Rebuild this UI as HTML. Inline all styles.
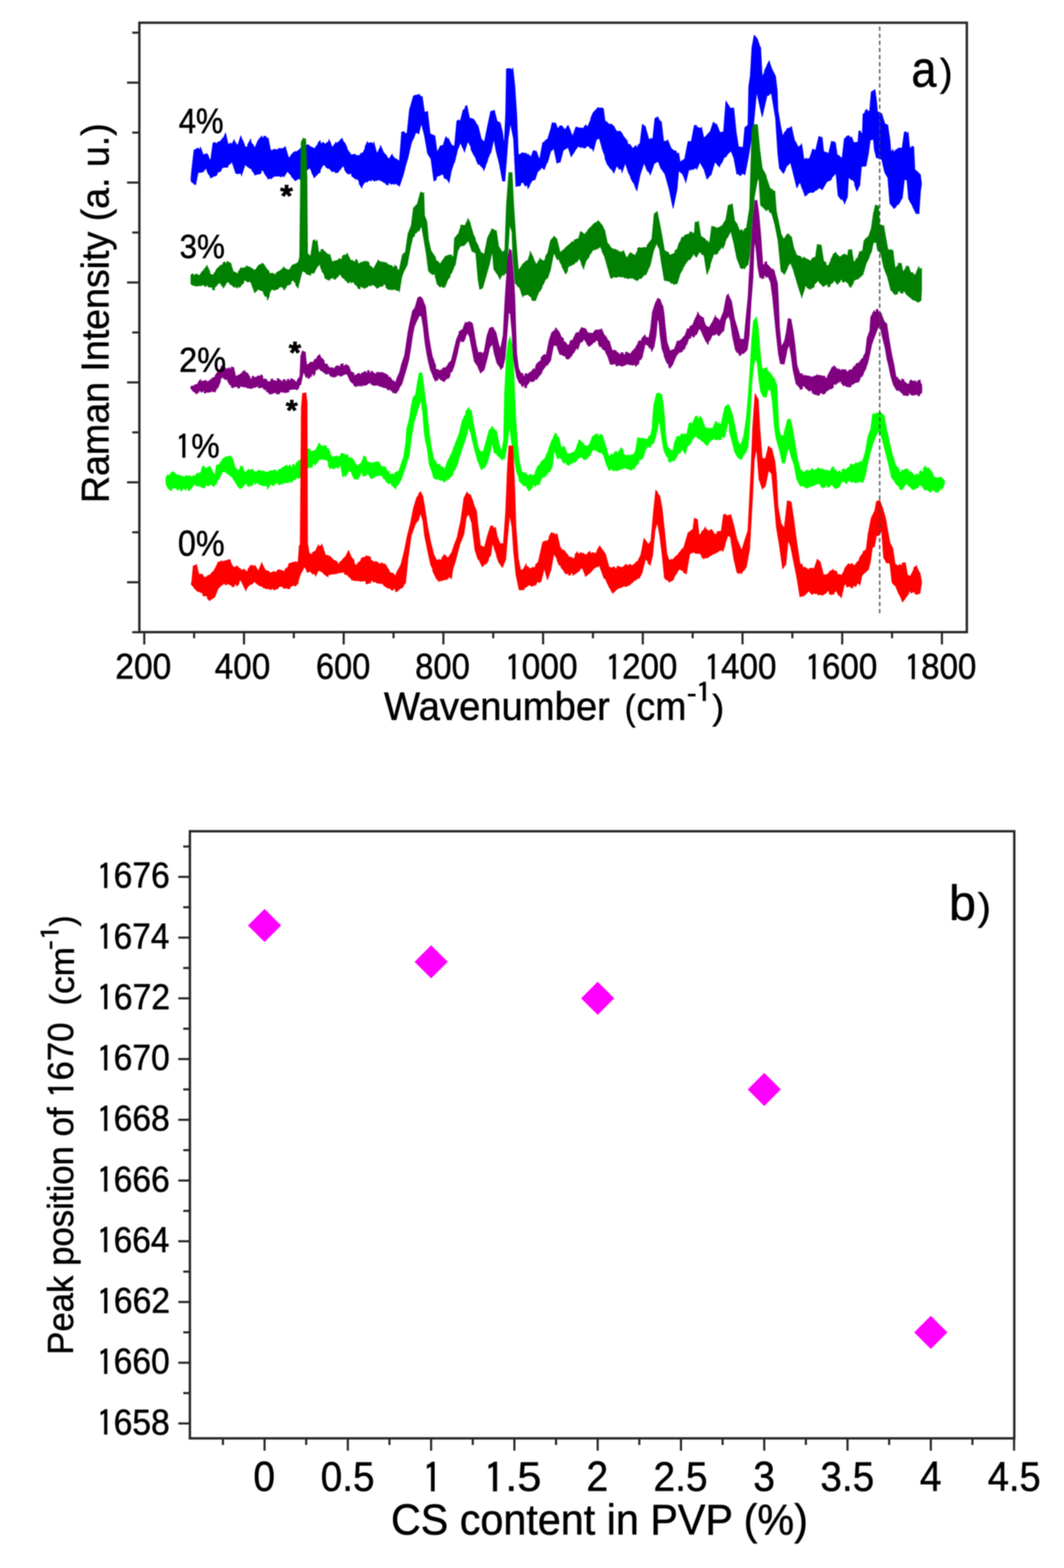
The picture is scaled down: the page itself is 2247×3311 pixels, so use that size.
<!DOCTYPE html>
<html><head><meta charset="utf-8"><title>Raman spectra figure</title>
<style>html,body{margin:0;padding:0;background:#fff;}svg{display:block;filter:blur(0.8px);}
text{font-family:"Liberation Sans",sans-serif;fill:#000;}</style></head>
<body><svg width="2247" height="3311" viewBox="0 0 2247 3311">
<rect width="2247" height="3311" fill="#fff"/>
<polygon points="403.2,379.6 404.9,359.6 409.8,316.9 414.3,315.3 414.3,314.2 418.7,312.6 418.7,315.6 423.2,313.9 423.2,310.4 428.1,323.8 428.2,326.5 432.3,326.5 432.3,325.5 436.5,325.5 436.5,323.7 440.6,330.3 440.6,333.0 444.8,339.7 444.8,339.6 449.8,301.9 454.8,300.8 454.8,303.2 459.8,302.1 459.8,299.9 464.8,298.8 464.8,298.9 471.4,290.6 471.4,292.6 476.4,280.9 476.4,281.4 481.4,303.3 485.6,305.8 485.6,301.6 489.7,304.1 489.7,304.7 494.7,294.7 494.7,297.1 501.4,307.1 501.4,309.0 508.0,289.1 508.1,286.8 512.2,296.8 512.2,295.7 516.4,305.7 516.4,309.2 523.0,310.9 523.0,305.3 529.7,293.6 529.7,298.5 533.8,307.7 533.9,304.3 538.0,313.4 538.0,312.5 544.7,297.6 544.7,297.4 548.8,291.6 548.8,292.7 553.0,286.9 553.0,289.9 557.4,291.1 557.4,287.2 561.9,288.3 561.9,290.8 566.3,291.9 566.3,291.4 571.3,317.2 577.1,317.2 577.1,315.6 583.0,315.6 583.0,316.6 587.4,316.6 587.4,313.7 591.8,313.7 591.8,313.7 596.3,313.7 596.3,314.6 602.9,309.6 602.9,311.3 609.6,334.1 614.6,329.1 614.6,327.6 619.6,322.6 619.6,321.9 624.0,319.7 624.0,321.3 628.5,319.1 628.5,318.3 632.9,316.1 632.9,315.1 637.9,310.1 637.9,313.1 642.9,308.1 642.9,307.5 647.9,308.4 647.9,305.7 652.9,306.5 652.9,308.5 657.9,311.0 657.9,310.7 662.9,313.2 662.9,315.3 667.3,310.3 667.3,309.4 671.7,304.4 671.7,301.8 676.2,296.8 676.2,300.9 681.2,305.1 681.2,299.9 686.2,304.1 686.2,305.9 690.3,300.9 690.3,302.9 694.5,297.9 694.5,294.3 698.6,302.6 698.6,304.6 702.8,312.9 702.8,310.2 709.5,300.3 709.5,304.0 713.9,300.2 713.9,300.7 718.3,296.8 718.3,295.7 722.8,291.8 722.8,293.6 727.8,304.4 727.8,301.1 732.8,311.9 732.8,314.2 736.9,320.8 736.9,320.2 741.1,326.9 741.1,326.8 746.1,326.8 746.1,326.1 751.1,326.1 751.1,328.4 756.1,328.4 756.1,329.0 761.1,327.3 761.1,324.5 766.1,322.8 766.1,324.0 771.0,313.2 771.1,309.5 776.0,298.7 776.1,302.6 780.5,302.0 780.5,301.7 784.9,301.1 784.9,303.2 789.4,302.7 789.4,299.7 796.0,324.9 803.3,310.0 803.3,306.7 810.0,321.7 810.0,322.3 816.6,329.0 816.6,330.7 823.3,337.3 823.3,333.5 828.3,325.1 828.3,327.8 834.9,336.1 834.9,334.3 839.1,337.7 839.1,337.3 843.3,340.7 843.3,343.0 848.3,278.7 854.1,277.9 854.1,282.2 859.9,281.3 859.9,279.7 864.9,231.4 873.2,202.6 877.7,200.9 877.7,201.6 882.1,200.0 882.1,200.8 886.5,199.2 886.5,202.1 891.5,205.4 891.5,203.2 896.5,237.3 903.2,235.6 903.2,238.1 908.2,282.7 913.2,284.4 913.2,285.0 918.2,286.7 918.2,286.4 923.2,322.0 929.8,308.7 929.8,308.3 936.5,306.6 936.5,304.7 941.5,288.6 946.5,295.2 946.5,291.7 953.1,305.0 953.1,305.8 959.8,309.2 959.8,309.7 964.8,255.6 968.9,253.1 968.9,256.2 973.1,253.7 973.1,251.4 978.1,232.5 982.2,230.0 982.3,225.2 986.4,222.7 986.4,224.8 991.4,249.5 995.6,250.3 995.6,250.6 999.7,251.5 999.7,251.5 1004.7,258.1 1004.7,259.7 1009.7,266.3 1009.7,266.4 1016.4,293.6 1023.0,300.2 1023.0,299.7 1029.7,266.4 1036.4,235.0 1040.5,235.0 1040.5,233.5 1044.7,233.5 1044.7,236.4 1049.7,255.9 1056.3,259.3 1056.3,259.7 1061.3,279.7 1064.7,309.7 1068.0,239.8 1069.6,145.8 1074.1,144.7 1074.1,145.8 1078.5,144.7 1078.5,147.1 1083.0,145.9 1083.0,143.2 1087.0,179.8 1091.3,243.1 1094.6,327.5 1101.3,324.1 1101.3,323.1 1106.3,323.1 1106.3,323.7 1111.2,323.7 1111.3,324.1 1115.4,329.1 1115.4,325.3 1119.6,330.3 1119.6,335.4 1126.2,318.7 1126.2,318.0 1132.9,319.7 1132.9,320.3 1139.5,338.6 1139.6,336.3 1146.2,301.5 1151.2,299.0 1151.2,296.6 1156.2,294.1 1156.2,294.7 1162.9,273.1 1166.2,259.1 1172.8,260.8 1172.8,259.0 1176.2,267.4 1176.2,270.5 1181.2,269.7 1181.2,266.3 1186.2,265.4 1186.2,265.5 1192.8,273.8 1192.8,274.6 1199.5,264.7 1199.5,264.4 1204.5,276.0 1204.5,277.1 1209.5,288.7 1209.5,287.0 1216.1,268.7 1216.1,268.4 1220.6,269.0 1220.6,269.9 1225.0,270.4 1225.0,270.1 1229.4,270.7 1229.4,272.2 1233.9,268.9 1233.9,266.9 1238.3,263.6 1238.3,268.7 1242.7,265.3 1242.8,263.8 1247.7,252.1 1247.8,249.3 1252.7,237.7 1252.7,238.3 1257.7,232.5 1257.7,233.0 1262.7,227.2 1262.7,227.3 1268.6,229.0 1268.6,227.5 1274.4,229.2 1274.4,231.4 1277.7,255.2 1283.5,259.3 1283.5,260.2 1289.4,264.4 1289.4,261.2 1296.0,266.2 1296.0,266.3 1303.3,279.6 1303.3,277.2 1310.0,277.2 1310.0,277.3 1315.0,284.0 1315.0,285.4 1320.0,292.1 1320.0,291.6 1324.9,298.3 1325.0,301.7 1329.9,308.3 1329.9,304.3 1336.6,314.3 1336.6,313.5 1343.3,306.8 1343.3,312.4 1347.4,309.0 1347.4,306.5 1351.6,303.2 1351.6,303.0 1356.6,262.6 1363.2,267.6 1363.2,269.7 1369.9,293.3 1374.1,294.9 1374.1,291.9 1378.2,293.5 1378.2,296.4 1383.2,249.9 1389.9,246.6 1389.9,249.3 1396.5,259.3 1396.5,256.4 1401.5,298.5 1405.7,298.5 1405.7,297.5 1409.8,297.5 1409.8,294.9 1416.5,311.6 1416.5,312.2 1423.2,318.9 1423.2,317.7 1428.1,319.3 1428.2,323.0 1433.1,324.6 1433.2,323.0 1436.5,343.2 1441.5,338.2 1441.5,339.6 1446.5,334.6 1446.5,333.0 1453.1,298.7 1459.8,298.7 1459.8,299.7 1466.4,264.7 1471.4,265.3 1471.4,268.8 1476.4,269.4 1476.4,270.4 1481.4,271.0 1481.4,268.1 1486.4,291.8 1493.1,285.2 1493.1,284.9 1499.7,278.2 1499.7,278.3 1506.4,258.3 1506.4,257.8 1513.0,264.5 1513.1,261.4 1519.7,278.1 1519.7,279.8 1523.9,279.8 1523.9,278.8 1528.0,278.8 1528.0,279.7 1533.0,213.6 1537.2,220.3 1537.2,220.3 1541.3,226.9 1541.3,228.4 1545.5,228.4 1545.5,228.3 1549.7,228.3 1549.7,229.8 1554.7,279.7 1559.7,310.8 1564.6,310.0 1564.7,311.6 1569.6,310.7 1569.6,308.0 1573.0,269.4 1579.6,264.4 1579.6,264.7 1581.3,183.2 1584.6,159.9 1588.0,99.9 1592.9,74.3 1599.6,82.6 1599.6,82.9 1606.3,102.9 1606.3,99.9 1609.6,162.6 1614.6,152.6 1614.6,149.1 1619.6,139.1 1619.6,138.2 1624.6,128.2 1624.6,129.9 1629.6,144.9 1633.7,153.2 1633.7,153.0 1637.9,161.4 1637.9,163.2 1641.2,189.8 1642.9,233.1 1647.9,263.1 1652.9,287.9 1657.9,277.9 1657.9,280.5 1662.9,270.5 1662.9,272.1 1667.0,270.5 1667.0,270.1 1671.2,268.4 1671.2,266.4 1677.8,296.2 1682.0,302.9 1682.0,303.9 1686.2,310.6 1686.2,311.5 1692.8,304.8 1692.8,303.0 1697.8,337.1 1703.6,333.8 1703.6,337.3 1709.5,333.9 1709.5,335.4 1716.1,315.5 1716.1,314.7 1722.8,318.0 1722.8,316.3 1729.4,287.9 1736.1,291.2 1736.1,289.7 1739.4,319.5 1744.4,322.9 1744.4,321.1 1749.4,324.4 1749.4,326.3 1756.1,298.1 1760.3,301.3 1760.3,298.6 1764.5,301.8 1764.5,302.8 1767.8,326.5 1773.3,329.8 1773.3,330.8 1778.7,334.1 1778.8,331.3 1783.1,293.5 1789.7,286.9 1789.7,286.9 1794.1,286.9 1794.1,290.2 1798.4,290.2 1798.4,288.9 1803.9,304.2 1803.9,300.9 1807.7,300.9 1807.7,300.6 1811.6,300.6 1811.6,302.8 1813.8,276.7 1817.6,276.7 1817.6,281.2 1821.4,281.2 1821.4,278.8 1822.5,241.2 1826.9,237.9 1826.9,234.0 1831.3,230.7 1831.3,234.8 1836.7,234.8 1836.7,232.8 1840.0,194.1 1843.8,193.1 1843.8,191.1 1847.7,190.0 1847.7,189.1 1851.0,213.1 1853.1,236.3 1857.5,237.4 1857.5,238.6 1861.9,239.7 1861.9,239.4 1868.5,261.2 1875.0,264.5 1875.0,266.7 1879.4,296.3 1881.6,321.8 1885.9,315.2 1886.0,321.0 1890.9,318.8 1890.9,316.9 1895.8,314.7 1895.8,313.9 1900.7,311.7 1900.7,314.2 1905.6,312.0 1905.6,309.4 1910.0,278.4 1913.8,278.4 1913.8,281.0 1917.7,281.0 1917.7,278.8 1921.0,311.4 1925.3,312.4 1925.3,308.8 1929.7,309.9 1929.7,311.6 1931.9,358.2 1937.4,362.6 1937.4,362.8 1943.9,369.4 1943.9,370.7 1946.1,388.2 1946.1,388.2 1943.9,403.5 1940.6,451.6 1940.6,450.8 1934.1,450.8 1934.1,449.4 1927.5,436.3 1927.5,435.7 1923.1,426.9 1923.1,428.1 1918.8,419.4 1915.5,379.4 1915.5,380.6 1910.0,378.4 1905.6,416.6 1905.6,417.7 1901.3,424.3 1901.3,425.5 1896.9,432.1 1896.9,430.2 1892.5,434.6 1892.5,436.1 1888.1,440.4 1888.1,440.3 1883.8,434.8 1883.8,435.0 1879.4,429.5 1875.0,375.0 1875.0,375.1 1868.5,364.1 1861.9,335.7 1861.9,335.8 1856.4,335.8 1856.4,333.5 1851.0,333.5 1846.6,316.0 1844.4,291.9 1844.4,293.8 1837.8,296.0 1833.5,326.9 1829.1,348.8 1829.1,350.2 1824.2,351.3 1824.1,350.6 1819.2,351.7 1815.9,388.2 1815.9,390.5 1809.4,403.6 1809.4,403.3 1805.0,390.2 1805.0,385.4 1798.4,376.7 1798.4,380.3 1791.9,373.7 1789.7,414.4 1789.7,415.8 1783.1,431.1 1783.1,427.6 1776.6,416.7 1776.6,421.7 1770.0,412.9 1765.6,366.3 1765.6,365.2 1760.9,370.2 1760.8,370.6 1756.1,375.6 1756.1,378.5 1751.1,381.9 1751.1,380.9 1746.1,384.2 1746.1,383.9 1741.1,392.2 1741.1,392.7 1736.1,401.1 1736.1,399.7 1729.4,396.4 1729.4,396.7 1724.4,401.7 1724.4,399.6 1719.5,404.6 1719.4,405.0 1714.5,406.7 1714.5,405.0 1709.5,406.7 1709.5,406.8 1704.5,409.3 1704.5,411.4 1699.5,413.9 1699.5,412.1 1694.5,397.9 1694.5,399.0 1689.5,384.8 1689.5,383.3 1682.8,396.6 1676.2,369.6 1669.5,343.0 1669.5,343.0 1662.9,349.6 1662.9,347.8 1658.7,356.1 1658.7,358.0 1654.5,366.3 1654.5,366.1 1650.4,361.1 1650.4,360.6 1646.2,355.6 1642.9,326.3 1637.9,249.7 1629.6,199.8 1629.6,196.8 1624.6,198.5 1624.6,200.6 1619.6,202.3 1609.6,246.4 1597.9,193.2 1591.3,263.1 1583.0,316.3 1579.6,336.3 1573.0,369.6 1573.0,368.5 1566.3,365.1 1566.3,369.1 1561.3,370.7 1561.3,366.4 1556.3,368.1 1549.7,333.0 1549.7,333.3 1543.0,316.6 1543.0,319.2 1536.4,325.8 1536.3,325.8 1532.2,332.4 1532.2,328.2 1528.0,334.9 1528.0,336.0 1523.9,344.3 1523.9,342.6 1519.7,350.9 1519.7,352.7 1514.7,347.7 1514.7,346.7 1509.7,341.7 1501.4,369.6 1501.4,368.0 1497.2,373.0 1497.2,373.3 1493.1,378.3 1486.4,356.3 1486.4,357.3 1482.3,349.0 1482.2,350.2 1478.1,341.9 1478.1,341.7 1471.4,358.3 1471.4,353.8 1467.3,355.5 1467.3,355.9 1463.1,357.6 1463.1,358.1 1459.0,356.5 1458.9,359.4 1454.8,357.7 1448.1,386.2 1448.1,383.7 1441.5,367.0 1441.5,367.4 1437.3,364.0 1437.3,363.6 1433.2,360.3 1429.8,399.6 1421.5,439.5 1413.2,399.6 1404.9,369.6 1404.8,368.7 1400.7,362.0 1400.7,362.4 1396.5,355.7 1396.5,357.1 1389.9,340.4 1389.9,340.9 1385.7,342.5 1385.7,343.3 1381.6,345.0 1373.2,369.6 1373.2,368.7 1368.2,358.7 1368.2,362.5 1364.1,354.2 1364.1,352.4 1359.9,344.1 1351.6,369.6 1344.9,402.9 1344.9,402.9 1340.8,392.9 1340.8,392.3 1336.6,382.3 1336.6,384.9 1331.6,374.9 1331.6,372.9 1326.6,362.9 1326.6,362.5 1320.0,342.6 1320.0,344.9 1313.3,364.9 1313.3,360.6 1308.3,353.1 1308.3,358.1 1303.3,350.6 1303.3,347.8 1296.0,366.1 1296.0,364.4 1289.4,354.4 1289.4,356.6 1282.7,346.6 1282.7,347.7 1277.7,334.4 1277.7,330.1 1272.7,316.8 1266.1,293.0 1266.1,291.5 1259.4,294.9 1252.7,319.7 1252.7,316.8 1247.8,311.8 1247.7,313.8 1242.8,308.8 1242.7,307.8 1237.8,309.4 1237.8,311.3 1232.8,313.0 1232.8,311.8 1227.8,309.3 1227.8,312.1 1222.8,309.6 1222.8,306.8 1216.1,315.2 1216.1,315.2 1211.1,323.5 1211.1,322.9 1206.1,331.2 1206.1,330.3 1199.5,310.3 1199.5,311.0 1194.5,314.3 1194.5,314.0 1189.5,317.3 1182.8,343.0 1182.8,341.4 1176.2,344.7 1169.5,313.0 1169.5,313.2 1162.9,319.8 1156.2,343.0 1156.2,340.8 1149.5,357.4 1149.5,358.2 1142.9,351.6 1142.9,355.5 1136.2,362.2 1136.2,359.9 1129.6,379.9 1129.6,378.6 1122.9,382.0 1122.9,382.6 1118.8,389.3 1118.7,391.8 1114.6,398.4 1114.6,393.6 1110.4,388.6 1110.4,393.4 1106.3,388.4 1106.3,383.8 1099.6,387.1 1099.6,391.4 1094.6,393.1 1094.6,392.1 1089.6,393.7 1084.6,293.0 1078.0,259.7 1073.0,293.0 1066.3,379.6 1066.3,382.2 1061.3,382.2 1054.7,346.3 1048.0,319.7 1043.0,293.0 1036.4,323.0 1036.3,320.4 1029.7,337.1 1029.7,339.2 1025.5,349.2 1025.5,350.8 1021.4,360.7 1021.4,357.0 1015.5,350.3 1015.5,350.5 1009.7,343.8 1009.7,347.5 1005.6,337.5 1005.6,336.7 1001.4,326.8 1001.4,328.8 994.7,315.5 994.7,310.9 988.1,297.6 988.1,298.2 981.4,318.2 981.4,321.6 977.3,311.6 977.3,312.2 973.1,302.2 973.1,299.2 966.4,315.9 959.8,343.0 959.8,340.8 953.1,360.7 948.1,386.3 948.1,384.9 941.5,374.9 941.5,377.9 937.3,374.6 937.3,370.2 933.2,366.8 933.1,368.2 926.5,371.5 926.5,370.6 921.5,373.9 921.5,379.1 916.5,382.4 909.8,333.0 909.8,334.7 903.2,324.7 896.5,286.4 889.9,259.7 884.9,279.7 884.9,282.6 878.2,279.3 873.2,293.0 873.2,290.4 868.2,303.7 861.6,333.0 856.6,349.6 851.6,369.6 851.6,369.7 847.4,381.3 847.4,382.0 843.3,393.7 843.3,391.9 838.8,390.2 838.8,388.4 834.4,386.7 834.4,389.2 829.9,387.6 829.9,388.2 825.0,389.1 824.9,385.9 820.0,386.7 820.0,390.9 815.0,389.3 815.0,386.8 810.0,385.2 810.0,384.4 804.7,381.1 804.7,382.0 799.4,378.6 799.3,379.7 794.4,381.4 794.4,380.8 789.4,382.5 789.4,380.9 784.4,378.4 784.4,382.4 779.4,379.9 779.4,380.9 774.4,385.0 774.4,382.0 769.4,386.2 769.4,385.6 764.4,394.0 764.4,397.3 758.6,388.1 758.6,383.7 752.7,374.6 752.7,379.1 747.8,375.7 747.7,375.2 742.8,371.9 742.7,367.5 737.8,365.0 737.8,368.1 732.8,365.6 732.8,365.9 727.8,358.4 727.8,355.1 722.8,347.6 722.8,352.0 717.8,358.7 717.8,358.0 712.8,364.7 712.8,364.0 707.8,364.8 707.8,361.2 702.8,362.1 702.8,363.1 697.8,358.9 697.8,357.9 692.8,353.7 692.8,355.9 687.8,352.6 687.8,350.7 682.8,347.4 682.8,347.5 676.2,359.1 676.2,363.3 669.5,368.3 669.5,368.9 662.9,375.6 662.9,373.3 657.9,363.3 657.9,361.5 652.9,351.5 652.9,355.6 647.9,358.9 647.9,358.6 642.9,361.9 642.9,360.8 637.9,369.1 637.9,370.6 632.9,378.9 632.9,376.1 627.9,378.6 627.9,379.0 622.9,381.5 622.9,381.0 618.8,375.1 618.7,376.6 614.6,370.8 614.6,369.7 610.4,365.5 610.4,365.5 606.3,361.3 606.3,362.0 599.6,373.6 599.6,372.6 594.6,370.9 594.6,373.7 589.6,372.1 589.6,371.2 585.2,372.3 585.2,371.1 580.7,372.2 580.7,371.9 576.3,373.0 576.3,374.6 571.3,377.9 571.3,374.9 566.3,378.3 566.3,378.1 561.3,368.9 561.3,370.8 556.3,361.6 556.3,358.9 551.3,361.4 551.3,365.5 546.3,368.0 546.3,366.6 542.2,368.3 542.2,368.1 538.0,369.7 538.0,368.6 533.9,361.1 533.8,362.5 529.7,355.0 529.7,356.0 525.3,354.3 525.2,352.8 520.8,351.1 520.8,349.3 516.4,347.7 516.4,351.4 509.7,371.4 509.7,366.6 503.9,365.8 503.9,366.9 498.1,366.0 489.7,341.3 489.7,341.0 485.6,346.8 485.6,344.2 481.4,350.1 481.4,353.1 476.4,353.1 476.4,353.2 471.4,353.2 471.4,353.0 467.3,357.1 467.3,359.6 463.1,363.8 463.1,360.8 459.0,365.0 458.9,367.9 454.8,372.0 454.8,370.1 449.8,373.4 449.8,372.7 444.8,376.0 444.8,375.4 440.6,365.4 440.6,368.7 436.5,358.8 436.5,354.1 429.8,360.7 429.8,362.5 424.0,364.1 424.0,363.2 418.2,364.8 413.2,389.6 413.2,390.1 409.0,388.4 409.0,386.4 404.9,384.7 403.2,379.6" fill="#0000ff" stroke="#0000ff" stroke-width="1.5" stroke-linejoin="round"/>
<polygon points="403.2,589.6 403.2,580.5 408.2,578.0 408.2,582.4 413.2,579.9 413.2,578.3 417.3,579.9 417.3,580.3 421.5,582.0 421.5,582.0 426.5,573.7 426.5,574.0 431.5,569.0 431.5,567.9 436.5,562.9 436.5,559.9 443.1,573.3 443.1,578.0 449.8,581.4 449.8,581.1 456.4,571.1 456.5,569.6 461.4,564.6 461.4,564.8 466.4,559.8 466.4,560.6 470.9,558.3 470.9,554.8 475.3,552.6 475.3,556.6 479.7,554.4 479.8,551.5 483.9,554.8 483.9,553.7 488.1,557.0 488.1,559.6 493.1,574.8 498.1,574.8 498.1,577.6 503.1,577.6 503.1,574.5 509.7,564.5 509.7,567.7 514.7,565.2 514.7,566.6 519.7,564.1 519.7,561.2 524.7,563.7 524.7,563.1 529.7,565.5 529.7,566.1 533.8,567.8 533.9,569.0 538.0,570.7 538.0,571.2 543.0,565.4 543.0,564.5 548.0,558.6 548.0,558.8 552.2,559.6 552.2,556.2 556.3,557.1 556.3,557.5 563.0,567.5 563.0,568.1 568.0,572.3 568.0,575.2 573.0,579.4 573.0,576.7 578.0,577.6 578.0,579.1 583.0,580.0 583.0,576.6 587.9,573.3 588.0,573.6 592.9,570.3 592.9,571.5 599.6,563.2 599.6,565.6 604.6,568.1 604.6,568.2 609.6,570.7 609.6,570.6 614.6,565.6 614.6,563.3 619.6,558.3 619.6,559.7 624.6,557.2 624.6,556.9 629.6,554.4 629.6,554.6 632.9,542.9 634.9,373.2 636.2,299.7 639.5,294.1 639.6,292.0 645.5,293.6 645.5,295.9 648.2,373.2 649.5,535.3 656.2,542.0 656.2,539.6 661.2,507.9 665.3,506.2 665.4,510.9 669.5,509.2 669.5,506.3 672.8,532.3 677.8,532.3 677.8,526.7 682.8,526.7 682.8,529.4 687.3,531.6 687.3,533.8 691.7,536.0 691.7,536.9 696.1,539.1 696.2,536.3 701.1,552.6 707.0,551.8 707.0,550.7 712.8,549.9 712.8,549.5 717.8,545.4 717.8,549.8 722.8,545.6 722.8,541.2 727.8,537.9 727.8,540.1 732.8,536.8 732.8,534.1 739.4,547.5 739.4,549.8 745.2,549.8 745.3,552.3 751.1,552.3 751.1,547.4 755.2,550.7 755.2,554.9 759.4,558.2 759.4,556.3 764.4,553.0 764.4,555.3 769.4,551.9 769.4,550.8 774.4,554.2 774.4,551.3 779.4,554.7 779.4,558.7 784.4,565.3 784.4,562.8 789.4,569.5 789.4,566.7 794.4,557.6 794.4,557.4 799.3,548.3 799.4,551.2 804.0,552.9 804.0,552.6 808.6,554.3 808.7,553.4 813.3,555.1 813.3,554.1 818.3,556.6 818.3,557.8 823.3,560.3 823.3,560.2 828.3,561.0 828.3,564.1 833.3,565.0 833.3,559.9 838.3,563.3 838.3,567.8 843.3,571.1 843.3,569.6 849.9,538.3 856.6,531.7 856.6,529.6 861.6,494.1 868.2,477.4 868.2,479.7 873.2,439.0 877.4,435.6 877.4,434.4 881.5,431.0 881.6,429.8 888.2,405.5 894.9,408.9 894.9,406.5 896.5,455.1 901.5,468.4 901.5,469.7 904.9,506.3 909.8,528.9 914.8,536.4 914.8,536.5 919.8,544.0 919.8,547.6 924.8,554.3 924.8,551.8 929.8,558.5 929.8,557.1 934.8,549.6 934.8,550.0 939.8,542.5 939.8,541.6 944.8,540.8 944.8,539.4 949.8,538.6 949.8,538.9 953.9,538.1 954.0,542.5 958.1,541.6 958.1,539.6 959.8,503.4 966.4,495.1 966.4,499.0 973.1,479.0 973.1,474.9 977.3,475.7 977.3,475.8 981.4,476.6 981.4,478.1 988.1,463.1 988.1,461.2 993.1,471.2 993.1,473.0 999.7,495.6 1003.9,503.9 1003.9,507.4 1008.0,515.7 1008.1,515.3 1012.2,525.3 1012.2,524.8 1016.4,534.8 1016.4,533.7 1023.0,537.1 1023.0,536.3 1029.7,502.2 1033.8,493.8 1033.9,494.0 1038.0,485.7 1038.0,483.3 1043.0,485.0 1043.0,486.0 1048.0,487.7 1048.0,486.4 1053.0,520.3 1059.6,530.3 1059.7,534.4 1066.3,527.7 1066.3,526.3 1069.6,433.1 1074.6,364.5 1081.3,364.5 1081.3,364.8 1084.6,429.8 1089.6,506.3 1094.6,571.1 1098.8,566.1 1098.8,565.5 1102.9,560.5 1102.9,558.3 1107.9,555.0 1107.9,553.6 1112.9,550.2 1112.9,555.5 1119.6,535.5 1119.6,530.7 1126.2,544.0 1126.2,546.1 1132.9,559.4 1132.9,558.7 1137.1,552.0 1137.1,551.7 1141.2,545.1 1141.2,547.7 1147.9,551.0 1147.9,552.5 1152.0,545.8 1152.0,541.5 1156.2,534.9 1156.2,536.3 1162.9,507.3 1169.5,500.6 1169.5,498.5 1176.2,505.1 1176.2,506.3 1182.8,533.3 1187.8,530.0 1187.8,529.0 1192.8,525.7 1192.8,524.3 1198.6,519.3 1198.6,519.3 1204.5,514.3 1204.5,514.6 1208.6,509.6 1208.6,513.8 1212.8,508.8 1212.8,506.3 1216.9,506.3 1217.0,504.6 1221.1,504.6 1221.1,506.3 1226.1,488.8 1231.1,492.1 1231.1,492.7 1236.1,496.0 1236.1,492.7 1241.1,487.7 1241.1,485.9 1246.1,480.9 1246.1,481.2 1251.1,476.2 1251.1,475.6 1256.1,470.6 1256.1,472.1 1262.7,467.1 1262.7,465.6 1266.9,469.8 1266.9,470.6 1271.0,474.8 1271.1,474.9 1277.7,488.2 1277.7,489.7 1282.7,513.4 1287.7,518.4 1287.7,520.3 1292.7,525.3 1292.7,524.5 1298.4,527.8 1298.5,525.8 1304.2,529.1 1304.2,529.1 1310.0,532.4 1310.0,533.1 1316.6,529.8 1316.6,528.9 1323.3,545.5 1323.3,545.3 1329.9,535.3 1329.9,533.7 1334.9,535.3 1334.9,536.6 1339.9,538.3 1339.9,542.4 1346.6,529.1 1346.6,524.1 1351.6,522.4 1351.6,524.7 1356.6,523.0 1356.6,523.8 1361.6,522.1 1361.6,523.5 1366.6,521.8 1366.6,517.9 1371.6,511.3 1371.6,511.6 1376.5,505.0 1376.6,506.3 1381.6,451.6 1388.2,446.6 1388.2,448.1 1393.2,473.0 1398.2,499.7 1403.2,529.0 1407.6,531.3 1407.6,531.5 1412.1,533.7 1412.1,536.8 1416.5,539.0 1416.5,538.4 1420.9,536.2 1420.9,536.3 1425.4,534.1 1425.4,529.0 1429.8,526.8 1429.8,526.8 1434.8,511.8 1434.8,515.9 1439.8,500.9 1439.8,502.0 1445.3,499.8 1445.4,497.3 1450.9,495.1 1450.9,495.8 1456.4,493.5 1456.5,490.0 1461.4,490.0 1461.4,492.4 1466.4,492.4 1466.4,493.0 1468.1,468.9 1474.8,468.9 1474.8,466.4 1479.8,498.3 1484.7,501.6 1484.8,501.8 1489.7,505.1 1489.7,505.8 1493.9,512.5 1493.9,508.1 1498.1,514.8 1498.1,516.3 1503.1,477.4 1508.0,479.0 1508.1,479.3 1513.0,481.0 1513.1,483.2 1518.0,479.8 1518.0,480.8 1523.0,477.5 1523.0,479.0 1528.0,472.4 1528.0,471.0 1533.0,464.4 1533.0,463.1 1538.0,434.0 1542.2,432.3 1542.2,433.0 1546.3,431.3 1546.3,429.8 1551.3,466.1 1556.3,472.8 1556.3,473.3 1563.0,490.0 1563.0,486.9 1567.4,484.7 1567.4,489.2 1571.9,486.9 1571.9,483.6 1576.3,481.4 1576.3,483.0 1583.0,439.7 1588.0,276.6 1591.3,262.5 1595.4,264.2 1595.4,262.5 1599.6,264.2 1599.6,263.3 1604.6,316.6 1609.6,355.3 1613.7,363.7 1613.8,362.6 1617.9,370.9 1617.9,373.2 1626.2,398.3 1631.2,400.0 1631.2,402.3 1636.2,403.9 1636.2,403.1 1639.6,446.4 1649.5,494.2 1656.2,507.5 1656.2,504.0 1662.9,494.0 1662.9,493.8 1667.0,495.4 1667.0,498.2 1671.2,499.8 1671.2,499.7 1676.2,523.5 1682.8,540.1 1682.8,538.9 1687.3,541.2 1687.3,540.2 1691.7,542.4 1691.7,544.7 1696.1,546.9 1696.2,543.3 1700.6,544.5 1700.6,546.2 1705.0,547.3 1705.0,548.3 1709.5,549.4 1709.5,552.4 1713.9,549.0 1713.9,547.1 1718.3,543.8 1718.3,545.3 1722.8,541.9 1722.8,539.6 1726.1,516.2 1730.3,517.8 1730.3,516.4 1734.4,518.1 1734.4,519.6 1739.4,551.4 1744.4,554.7 1744.4,559.0 1749.4,562.4 1749.4,560.8 1754.4,550.8 1754.4,548.5 1759.4,538.5 1759.4,536.8 1765.6,532.5 1765.6,535.3 1772.2,541.9 1772.2,543.0 1777.7,540.8 1777.7,539.2 1783.1,537.0 1783.1,536.1 1789.7,540.4 1789.7,541.9 1791.9,527.6 1798.4,527.6 1798.4,526.6 1802.8,553.2 1807.2,551.0 1807.2,546.8 1811.6,544.6 1811.6,543.5 1815.9,530.4 1815.9,532.2 1821.4,530.0 1821.4,531.0 1824.7,508.6 1830.2,502.0 1830.2,503.6 1835.6,497.1 1835.6,496.0 1840.0,482.8 1844.4,452.2 1848.8,432.9 1855.3,435.1 1855.3,436.9 1857.5,473.7 1861.9,475.9 1861.9,475.5 1866.3,477.7 1866.3,476.3 1869.5,496.0 1875.0,526.6 1880.5,528.8 1880.5,527.0 1885.9,529.2 1886.0,531.0 1890.3,566.6 1896.9,560.0 1896.9,556.1 1903.4,556.1 1903.5,557.2 1906.7,574.5 1913.3,565.7 1913.3,562.2 1918.8,562.2 1918.8,563.8 1923.1,575.2 1928.6,576.3 1928.6,579.6 1934.1,580.7 1934.1,577.9 1940.6,562.5 1940.6,566.5 1946.1,568.7 1946.1,566.0 1946.1,590.0 1946.1,611.9 1945.0,633.8 1945.0,634.3 1938.5,638.7 1938.4,637.7 1934.1,635.5 1934.1,634.8 1929.7,632.6 1929.7,634.5 1924.2,630.2 1924.2,629.7 1918.8,625.3 1918.8,625.6 1912.2,619.1 1912.2,616.2 1906.7,615.1 1906.7,619.4 1901.3,618.3 1901.3,613.5 1895.8,615.7 1895.8,620.0 1890.3,622.2 1890.3,621.0 1886.0,618.8 1885.9,615.7 1881.6,613.5 1872.8,579.1 1872.8,581.5 1866.3,564.0 1859.7,533.2 1859.7,534.5 1853.1,527.9 1851.0,513.5 1850.9,511.9 1844.4,511.9 1840.0,533.2 1840.0,530.9 1835.6,541.8 1835.6,543.4 1829.1,556.5 1822.5,579.1 1822.5,579.2 1817.0,584.7 1817.0,584.0 1811.6,589.4 1811.6,588.3 1807.2,590.5 1807.2,590.3 1802.8,592.5 1802.8,596.4 1796.3,607.3 1796.2,607.4 1791.9,600.9 1791.9,598.2 1787.5,596.0 1787.5,594.9 1783.1,592.7 1783.1,596.1 1778.8,595.0 1778.7,591.3 1774.4,590.2 1774.4,594.2 1767.8,600.7 1767.8,599.5 1761.3,590.8 1761.2,592.5 1757.0,598.9 1757.0,595.8 1752.7,602.2 1752.7,605.4 1748.3,605.4 1748.3,600.2 1743.9,600.2 1743.9,602.8 1739.4,602.8 1739.4,605.7 1734.4,600.7 1734.4,600.5 1729.4,595.5 1729.4,590.6 1724.4,595.6 1724.4,596.1 1719.5,601.1 1719.4,605.7 1714.5,609.0 1714.5,608.0 1709.5,611.4 1709.5,609.5 1704.5,607.8 1704.5,605.5 1699.5,603.9 1699.5,608.8 1692.8,628.7 1692.8,626.3 1686.2,606.3 1676.2,572.9 1676.2,571.6 1669.5,555.0 1669.5,554.1 1662.9,564.1 1662.9,566.3 1656.2,579.6 1656.2,578.8 1649.5,572.1 1642.9,506.3 1636.2,473.0 1629.6,449.7 1629.6,450.5 1624.6,447.1 1624.6,443.9 1619.6,440.6 1619.6,445.5 1615.1,442.2 1615.1,440.6 1610.7,437.3 1610.7,436.7 1606.3,433.4 1602.9,379.8 1602.9,376.9 1599.6,380.2 1592.9,416.4 1588.0,473.0 1583.0,539.6 1579.6,559.6 1579.6,557.6 1573.0,565.9 1573.0,567.7 1568.0,565.2 1568.0,567.7 1563.0,565.2 1563.0,562.4 1556.3,545.7 1549.7,513.0 1543.0,486.4 1543.0,488.3 1536.4,501.6 1536.3,499.2 1531.4,510.9 1531.4,513.7 1526.4,525.4 1526.4,520.0 1521.4,525.0 1521.4,526.2 1516.4,531.2 1516.4,534.3 1511.4,537.7 1511.4,534.5 1506.4,537.8 1506.4,538.8 1499.7,558.8 1499.7,562.6 1493.1,579.2 1486.4,536.3 1486.4,538.5 1481.4,536.8 1481.4,534.1 1476.4,532.5 1476.4,532.1 1471.4,542.1 1471.4,543.3 1467.3,540.0 1467.3,538.5 1463.1,535.2 1463.1,539.0 1456.5,549.0 1456.4,545.1 1451.5,551.8 1451.5,551.6 1446.5,558.3 1446.5,559.1 1441.5,567.4 1441.5,569.1 1436.5,577.4 1429.8,599.5 1429.8,597.5 1423.2,600.9 1423.2,600.4 1418.2,595.4 1418.2,598.7 1413.2,593.7 1413.2,593.2 1408.2,593.2 1408.2,592.3 1403.2,592.3 1396.5,552.9 1393.2,529.6 1393.2,527.2 1386.5,513.9 1386.5,513.7 1379.9,530.3 1373.2,559.6 1373.2,559.9 1368.2,569.9 1368.2,571.4 1363.2,581.3 1363.2,577.8 1358.2,582.8 1358.2,583.4 1353.3,588.4 1353.2,587.7 1348.3,588.5 1348.2,591.5 1343.3,592.3 1343.3,590.2 1338.3,589.4 1338.3,587.5 1333.3,586.6 1333.3,587.8 1328.3,586.1 1328.3,588.8 1323.3,587.1 1323.3,586.8 1318.3,586.8 1318.3,584.8 1313.3,584.8 1313.3,584.5 1308.3,584.5 1308.3,584.1 1303.3,584.1 1303.3,585.4 1298.7,585.4 1298.7,584.5 1294.0,584.5 1294.0,586.9 1289.4,586.9 1282.7,562.9 1276.1,539.6 1276.0,540.2 1271.1,530.2 1271.0,527.3 1266.1,517.3 1266.1,522.3 1261.1,525.6 1261.1,524.6 1256.1,528.0 1256.1,524.9 1249.4,531.5 1249.4,532.7 1244.4,539.3 1244.4,541.8 1239.4,548.5 1239.4,545.5 1232.8,565.5 1232.8,568.8 1227.8,557.2 1227.8,555.1 1222.8,543.4 1222.8,545.8 1217.8,554.1 1217.8,549.4 1212.8,557.7 1212.8,557.3 1207.8,559.0 1207.8,560.0 1202.8,561.7 1202.8,560.2 1198.6,566.8 1198.6,572.1 1194.5,578.7 1194.5,578.3 1190.3,570.0 1190.3,569.8 1186.2,561.5 1186.2,559.4 1182.0,552.8 1182.0,550.6 1177.8,543.9 1177.8,549.2 1173.7,542.6 1173.7,540.5 1169.5,533.9 1162.9,566.3 1162.9,568.1 1156.2,588.1 1156.2,584.6 1149.5,594.6 1149.5,596.3 1144.6,604.6 1144.5,607.5 1139.6,615.8 1139.5,612.2 1135.4,623.1 1135.4,622.6 1131.2,633.5 1131.2,635.0 1127.1,633.3 1127.1,635.1 1122.9,633.5 1122.9,629.1 1118.8,624.9 1118.7,625.5 1114.6,621.3 1114.6,621.3 1109.6,623.0 1109.6,622.7 1104.6,624.4 1104.6,627.6 1100.4,617.6 1100.4,615.4 1096.3,605.4 1096.3,606.6 1092.1,603.3 1092.1,601.6 1088.0,598.3 1083.0,539.6 1081.3,489.7 1076.3,473.0 1073.0,526.3 1069.6,572.9 1069.6,575.0 1063.0,581.6 1063.0,577.3 1056.3,587.3 1056.3,590.5 1049.7,577.2 1049.7,578.3 1043.0,568.3 1039.7,529.6 1033.0,559.6 1026.4,582.9 1019.7,606.2 1019.7,607.7 1013.1,611.0 1009.7,589.6 1004.7,533.0 1004.7,534.0 1000.6,532.3 1000.6,532.0 996.4,530.4 996.4,529.1 989.7,509.2 989.7,508.1 985.6,511.4 985.6,512.7 981.4,516.0 981.4,517.6 977.3,519.2 977.3,518.0 973.1,519.6 973.1,517.2 966.4,530.5 961.4,559.6 961.4,557.1 954.8,573.7 954.8,574.8 950.6,579.8 950.6,584.2 946.5,589.2 946.5,588.5 939.8,605.2 939.8,605.8 934.8,607.4 934.8,603.5 929.8,605.2 929.8,606.5 923.2,599.9 918.2,579.6 918.2,576.8 913.2,580.1 913.2,580.3 909.0,575.3 909.0,576.4 904.9,571.4 899.9,533.0 896.5,513.0 889.9,474.7 889.9,476.2 884.9,487.9 884.9,484.5 879.9,491.2 879.9,490.5 875.7,493.8 875.7,498.0 871.6,501.4 866.6,523.0 859.9,559.6 859.9,558.8 853.3,572.1 853.2,571.8 848.3,585.1 843.3,616.2 843.3,615.2 838.3,611.8 838.3,613.5 833.3,610.2 833.3,611.2 828.8,611.2 828.8,611.5 824.4,611.5 824.4,611.0 820.0,611.0 820.0,611.3 815.0,606.4 815.0,602.6 810.0,597.6 810.0,602.1 805.3,605.4 805.3,602.8 800.7,606.2 800.7,605.8 796.0,609.1 796.0,608.0 789.4,601.4 789.4,602.2 784.4,600.5 784.4,603.9 779.4,602.3 779.4,602.3 774.4,607.3 774.4,604.4 769.4,609.4 769.4,607.9 765.0,606.8 764.9,605.6 760.5,604.5 760.5,610.0 756.1,608.9 756.1,607.0 751.1,600.3 751.1,602.0 746.1,595.4 746.1,594.4 741.1,597.7 741.1,593.2 736.1,596.6 736.1,598.2 729.4,591.5 729.4,591.8 724.4,585.1 724.4,587.5 719.5,580.9 719.4,578.1 714.5,581.5 714.5,583.6 709.5,586.9 709.5,589.0 705.0,590.1 705.0,586.0 700.6,587.1 700.6,587.5 696.2,588.6 696.1,591.9 691.2,590.3 691.1,589.4 686.2,587.7 686.2,584.8 681.2,571.5 681.2,575.4 676.2,562.1 676.2,557.0 669.5,563.6 669.5,563.5 662.9,576.8 662.9,576.8 656.2,576.8 656.2,581.2 651.2,579.5 651.2,579.8 646.2,578.1 646.2,575.7 639.6,572.4 639.5,570.1 636.2,580.1 629.6,606.2 629.6,608.6 624.6,601.9 624.6,598.7 619.6,592.1 619.6,591.0 614.6,594.4 614.6,598.7 609.6,602.1 609.6,598.8 604.6,605.4 604.6,606.0 599.6,612.7 599.6,610.2 592.9,603.5 592.9,605.8 588.0,607.5 587.9,609.8 583.0,611.5 583.0,611.5 578.0,613.1 578.0,610.3 573.0,612.0 573.0,611.1 568.8,620.3 568.8,624.8 564.7,634.0 564.6,628.9 560.5,621.4 560.5,626.4 556.3,618.9 556.3,615.3 551.3,613.6 551.3,613.2 546.3,611.5 546.3,609.9 542.2,613.2 542.2,614.2 538.0,617.5 538.0,618.5 533.9,606.9 533.8,607.1 529.7,595.5 529.7,595.5 524.7,593.8 524.7,595.5 519.7,593.9 519.7,590.1 514.7,593.4 514.7,597.7 509.7,601.0 509.7,602.2 505.6,607.2 505.6,602.7 501.4,607.6 501.4,608.5 495.6,603.5 495.6,607.1 489.7,602.1 489.7,602.5 484.8,599.2 484.7,597.6 479.8,594.3 479.7,595.2 475.6,601.8 475.6,601.9 471.4,608.6 471.4,605.6 467.3,602.2 467.3,600.2 463.1,596.9 463.1,596.9 458.1,601.8 458.1,602.4 453.1,607.4 453.1,612.4 448.7,611.3 448.7,606.7 444.2,605.6 444.2,606.7 439.8,605.6 439.8,604.1 434.8,600.8 434.8,605.6 429.8,602.2 429.8,600.5 423.2,603.9 423.2,602.4 418.2,604.0 418.2,602.9 413.2,604.5 413.2,604.3 408.2,601.0 408.2,602.8 403.2,599.5 403.2,589.6" fill="#008000" stroke="#008000" stroke-width="1.5" stroke-linejoin="round"/>
<polygon points="402.8,818.9 402.8,816.6 406.6,814.7 406.6,816.1 410.4,814.2 410.4,812.9 414.2,811.9 414.2,811.9 418.0,810.9 418.0,808.4 423.7,800.8 423.7,804.4 427.5,805.4 427.5,804.6 431.3,805.5 431.3,804.0 435.1,803.1 435.1,806.2 438.9,805.3 438.9,805.4 442.7,804.4 442.7,802.5 446.5,801.5 446.5,799.9 450.3,797.0 450.3,798.8 454.1,795.9 454.1,793.7 457.9,788.0 457.9,788.2 461.7,782.4 461.7,784.3 467.4,774.7 467.4,772.7 473.1,772.7 473.2,774.8 477.0,777.7 477.0,778.1 480.8,780.9 480.8,778.1 484.6,776.2 484.6,779.8 488.4,777.9 488.4,774.6 494.1,776.5 494.1,779.0 497.9,795.6 503.6,791.8 503.6,792.0 507.4,791.1 507.4,789.5 511.2,788.5 511.2,785.8 516.9,782.0 516.9,784.7 522.6,788.5 522.6,787.7 528.3,797.3 528.3,800.7 532.1,799.7 532.1,794.9 535.9,793.9 535.9,798.2 539.7,796.3 539.7,797.2 543.5,795.3 543.5,793.7 547.3,793.7 547.3,794.2 551.1,794.2 551.1,790.4 554.9,794.3 555.0,799.0 558.7,802.8 558.8,799.8 563.5,801.7 563.5,804.5 568.3,806.4 568.3,806.2 572.1,805.2 572.1,800.7 575.9,799.8 575.9,803.5 580.6,803.5 580.6,804.4 585.4,804.4 585.4,799.2 589.2,800.1 589.2,801.9 593.0,802.8 593.0,805.2 597.7,805.2 597.8,801.7 602.5,801.7 602.5,806.1 606.3,805.1 606.3,801.4 610.1,800.4 610.1,803.7 613.9,803.7 613.9,799.7 617.7,799.7 617.7,801.8 622.7,803.1 622.7,805.6 627.6,806.9 627.6,802.6 633.3,795.0 633.3,796.7 635.2,751.6 639.0,740.2 639.0,741.6 644.7,743.5 644.7,743.5 647.6,770.9 654.2,767.1 654.2,765.4 658.0,764.5 658.0,765.4 661.8,764.4 661.8,764.3 665.6,757.6 665.7,762.3 669.4,755.6 669.5,754.1 675.2,748.4 675.2,749.7 680.9,761.1 680.9,756.7 684.7,762.4 684.7,766.1 688.5,771.8 688.5,767.8 692.3,770.7 692.3,773.2 696.1,776.0 696.1,776.6 699.9,777.6 699.9,775.9 703.7,776.9 703.7,780.0 707.5,777.1 707.5,775.2 711.3,772.3 711.3,772.5 715.1,772.5 715.1,774.3 718.9,774.3 718.9,769.6 724.6,767.7 724.6,773.1 730.3,771.2 730.3,769.0 734.1,772.8 734.1,771.4 737.9,775.2 737.9,777.6 743.6,789.0 743.6,785.8 747.4,787.7 747.4,792.1 751.2,794.0 751.3,791.5 755.0,790.6 755.1,789.3 758.9,788.3 758.9,790.7 763.6,789.8 763.6,787.8 768.4,786.9 768.4,785.3 772.2,784.3 772.2,787.7 776.0,786.8 776.0,782.6 779.8,782.6 779.8,787.3 783.6,787.3 783.6,783.9 787.4,784.8 787.4,787.1 791.2,788.1 791.2,790.1 795.0,789.2 795.0,786.8 798.8,785.8 798.8,786.3 802.6,788.2 802.6,786.1 806.4,788.0 806.4,786.1 811.2,788.1 811.2,788.2 815.9,790.1 815.9,790.8 819.7,792.7 819.7,795.5 823.5,797.4 823.5,796.3 829.2,803.9 829.2,804.4 833.0,804.4 833.0,806.7 836.8,806.7 836.9,802.1 842.6,788.8 842.6,791.0 848.3,768.5 854.0,751.4 854.0,753.0 857.8,728.3 861.6,701.6 865.4,682.6 871.1,656.9 876.8,649.3 876.8,648.4 882.5,628.4 888.2,626.5 888.2,626.4 893.9,634.0 893.9,636.1 898.7,647.5 898.7,648.4 901.5,675.0 905.3,709.2 909.1,732.1 912.9,752.5 916.7,762.0 916.7,763.6 920.0,771.2 920.0,772.0 920.0,779.9 924.7,779.9 924.8,782.0 929.5,782.0 929.5,782.1 934.3,780.2 934.3,777.9 939.0,776.0 939.0,778.5 942.8,774.7 942.8,773.8 946.6,770.0 946.6,767.9 952.3,762.2 952.3,764.4 958.0,741.6 963.8,717.6 969.4,704.3 969.5,700.1 973.3,698.2 973.3,697.6 977.1,695.7 977.1,695.4 982.8,680.2 982.8,683.4 986.6,680.6 986.6,682.0 990.4,679.1 990.4,678.6 994.2,682.4 994.2,680.1 998.0,683.9 998.0,684.5 1001.8,705.4 1005.6,728.3 1009.4,744.0 1013.2,744.9 1013.2,743.4 1017.0,744.4 1017.0,748.2 1022.7,742.5 1022.7,741.6 1028.4,709.2 1034.1,692.5 1037.9,692.5 1037.9,691.2 1041.7,691.2 1041.7,693.0 1047.4,702.5 1047.4,701.6 1053.2,727.9 1057.0,737.4 1057.0,737.8 1062.7,707.3 1066.5,633.2 1072.2,547.6 1076.0,525.4 1079.8,531.2 1079.8,528.5 1085.5,595.1 1087.4,633.2 1089.3,695.9 1091.2,747.3 1095.0,777.2 1100.7,790.5 1100.7,787.6 1104.5,789.5 1104.5,793.5 1108.3,795.4 1108.3,790.2 1112.1,788.3 1112.1,791.2 1115.9,789.3 1115.9,788.6 1119.7,786.7 1119.7,785.7 1123.5,783.8 1123.5,782.7 1127.3,777.9 1127.3,782.3 1131.1,777.5 1131.1,772.9 1134.9,766.2 1135.0,769.5 1138.7,762.8 1138.8,765.2 1142.6,760.4 1142.6,755.6 1146.4,750.8 1146.4,751.2 1150.2,748.3 1150.2,750.8 1154.0,747.9 1154.0,747.3 1159.7,718.8 1165.4,701.7 1165.4,702.5 1169.2,698.7 1169.2,699.7 1173.0,695.9 1173.0,692.1 1176.8,695.9 1176.8,696.7 1180.6,700.5 1180.6,700.4 1186.3,713.8 1186.3,712.2 1190.1,715.1 1190.1,720.1 1193.9,723.0 1193.9,722.4 1199.6,730.0 1199.6,729.6 1203.4,725.8 1203.4,721.5 1207.2,717.7 1207.2,722.7 1211.0,715.1 1211.0,714.5 1214.8,706.9 1214.8,705.2 1220.0,701.4 1220.0,701.6 1220.0,706.0 1223.8,700.3 1223.8,698.6 1227.6,692.9 1227.6,691.5 1232.4,693.4 1232.4,692.7 1237.1,694.6 1237.1,695.4 1242.8,704.9 1242.8,703.7 1246.6,702.8 1246.6,704.5 1250.4,703.6 1250.4,706.1 1254.2,701.3 1254.2,701.0 1258.0,696.2 1258.0,697.1 1263.7,697.1 1263.8,696.3 1269.4,696.3 1269.5,693.7 1273.3,700.3 1273.3,702.0 1277.1,708.7 1277.1,708.0 1281.8,713.7 1281.8,715.8 1286.6,721.5 1286.6,719.8 1292.3,738.9 1297.0,740.9 1297.0,739.3 1301.8,741.2 1301.8,743.5 1306.5,745.4 1306.6,747.3 1311.3,749.2 1311.3,744.7 1316.1,744.7 1316.1,748.7 1320.8,748.7 1320.8,743.5 1326.5,744.5 1326.5,745.9 1332.2,746.9 1332.2,746.7 1336.0,740.1 1336.0,743.1 1339.8,736.5 1339.8,737.7 1343.6,732.0 1343.6,730.8 1347.4,725.1 1347.4,722.6 1351.2,718.7 1351.3,722.1 1355.0,718.3 1355.1,715.0 1358.9,711.1 1358.9,710.6 1362.7,706.8 1362.7,710.8 1366.5,713.7 1366.5,712.0 1370.3,714.9 1370.3,714.1 1374.1,693.2 1377.9,658.9 1383.6,641.1 1389.3,629.6 1389.3,629.5 1395.0,633.3 1395.0,635.2 1399.8,648.5 1399.8,645.6 1402.6,664.6 1404.5,685.5 1408.3,721.5 1414.0,738.6 1414.0,740.8 1418.8,739.9 1418.8,739.0 1423.5,738.1 1423.5,739.1 1429.2,723.8 1429.2,721.3 1433.0,719.4 1433.0,721.1 1436.8,719.2 1436.9,718.3 1441.6,714.5 1441.6,712.9 1446.4,709.1 1446.4,708.5 1452.1,693.3 1452.1,695.8 1456.8,692.9 1456.8,689.7 1461.6,686.8 1461.6,689.4 1467.3,674.7 1473.0,663.3 1473.0,658.7 1478.7,668.2 1478.7,667.5 1482.5,669.4 1482.5,669.9 1486.3,671.8 1486.3,676.7 1492.0,691.9 1492.0,688.4 1497.7,692.2 1497.7,691.0 1501.5,685.3 1501.5,684.6 1505.3,678.9 1505.3,679.0 1511.0,665.7 1511.0,669.6 1516.7,673.4 1516.7,673.0 1520.0,678.7 1520.0,677.9 1520.0,678.0 1524.1,667.7 1524.1,667.9 1528.3,657.6 1528.3,656.2 1534.5,624.7 1538.6,620.5 1538.6,623.7 1544.8,636.1 1544.8,635.5 1551.0,672.7 1557.2,693.4 1563.4,717.4 1567.5,715.3 1567.5,718.0 1571.6,716.0 1571.7,714.0 1575.8,668.6 1579.9,627.3 1582.0,586.0 1586.1,524.0 1590.2,462.0 1594.4,422.6 1598.5,424.6 1598.5,422.7 1602.6,451.7 1606.8,499.2 1610.9,559.4 1615.0,558.3 1615.0,553.4 1619.2,552.4 1619.2,557.2 1623.3,561.3 1623.3,561.6 1627.4,565.7 1627.4,565.9 1631.6,572.1 1631.6,567.1 1635.7,573.3 1635.7,575.6 1641.9,598.3 1644.0,635.5 1646.0,689.3 1650.2,732.9 1656.4,720.5 1656.4,722.3 1660.5,701.7 1664.6,672.5 1670.8,674.5 1670.8,676.9 1675.0,699.6 1679.1,730.6 1683.2,771.9 1689.4,789.8 1694.6,788.7 1694.6,793.6 1699.7,792.6 1699.8,792.4 1705.9,794.4 1706.0,793.4 1712.1,795.4 1712.1,796.6 1718.3,795.5 1718.3,794.4 1724.5,793.4 1724.5,791.3 1730.7,793.4 1730.7,792.2 1736.9,794.3 1736.9,794.3 1742.1,794.3 1742.1,798.2 1747.3,798.2 1747.3,794.9 1752.4,784.6 1752.4,785.3 1757.6,774.9 1757.6,775.6 1760.9,774.6 1760.9,772.2 1764.7,775.0 1764.7,776.5 1768.5,779.3 1768.5,779.5 1773.3,779.5 1773.3,782.1 1778.0,782.1 1778.0,780.0 1782.8,780.9 1782.8,780.6 1787.5,781.6 1787.6,785.5 1792.3,784.5 1792.3,781.7 1797.1,780.8 1797.1,782.9 1802.8,775.3 1802.8,773.9 1807.5,772.0 1807.5,768.4 1812.3,766.5 1812.3,768.8 1816.1,763.1 1816.1,763.3 1819.9,757.6 1819.9,759.6 1823.7,753.9 1823.7,751.3 1827.5,745.6 1827.5,746.5 1831.3,713.5 1837.0,698.3 1837.0,697.1 1838.9,668.8 1842.7,663.1 1842.7,661.1 1846.5,655.4 1846.5,659.3 1850.3,658.3 1850.3,653.7 1854.1,652.8 1854.1,657.1 1857.9,661.9 1857.9,658.0 1861.7,662.8 1861.7,664.7 1867.4,678.9 1873.1,684.6 1873.2,687.6 1877.0,712.3 1882.7,746.5 1888.4,773.2 1892.2,796.1 1896.0,797.0 1896.0,800.4 1899.8,801.4 1899.8,802.7 1904.5,805.5 1904.5,799.7 1909.3,802.5 1909.3,805.4 1913.1,808.3 1913.1,808.3 1916.9,811.1 1916.9,813.0 1920.7,809.2 1920.7,805.5 1924.5,801.7 1924.5,803.6 1930.2,805.5 1930.2,804.6 1934.0,804.6 1934.0,807.5 1937.8,807.5 1937.8,804.1 1943.5,802.2 1943.5,806.3 1946.4,813.9 1946.4,811.2 1947.0,822.6 1947.0,822.6 1946.4,830.2 1946.4,827.3 1941.6,834.9 1941.6,836.6 1937.8,834.7 1937.8,833.2 1934.0,831.3 1934.0,834.3 1930.2,832.4 1930.2,834.4 1926.4,834.4 1926.4,833.5 1922.6,833.5 1922.6,829.4 1918.8,830.3 1918.8,834.8 1915.0,835.7 1915.0,834.8 1911.2,834.8 1911.2,834.5 1907.4,834.5 1907.4,832.8 1903.6,829.0 1903.6,829.1 1899.8,825.3 1899.8,825.4 1896.0,822.6 1896.0,825.3 1892.2,822.5 1892.2,821.6 1886.5,812.1 1880.8,792.2 1877.0,773.2 1873.2,757.9 1869.4,735.1 1863.6,712.3 1859.8,693.3 1859.8,696.1 1856.0,688.5 1852.2,697.1 1852.2,697.1 1846.5,712.3 1846.5,710.9 1840.8,728.0 1837.0,746.5 1833.2,763.6 1833.2,763.7 1827.5,780.8 1827.5,780.2 1823.7,786.8 1823.7,789.4 1819.9,796.0 1819.9,792.8 1816.1,798.5 1816.1,801.7 1812.3,807.5 1812.3,805.8 1808.5,807.7 1808.5,806.9 1804.7,808.8 1804.7,808.9 1800.9,811.8 1800.9,810.4 1797.1,813.3 1797.1,816.6 1793.3,817.6 1793.3,816.1 1789.5,817.1 1789.4,816.8 1785.7,814.9 1785.6,814.2 1781.8,812.3 1781.8,815.3 1776.1,807.7 1776.1,804.5 1772.3,805.5 1772.3,807.2 1768.5,808.1 1768.5,808.7 1764.2,812.7 1764.2,808.6 1759.9,812.6 1759.9,817.8 1755.5,821.8 1755.5,819.3 1749.3,823.5 1749.3,823.6 1743.1,827.7 1743.1,830.6 1736.9,832.6 1736.9,828.7 1730.7,830.8 1730.7,834.4 1725.6,834.4 1725.6,832.9 1720.4,832.9 1720.4,832.5 1715.2,829.4 1715.2,825.9 1710.1,822.8 1710.1,826.4 1704.9,822.3 1704.9,822.3 1699.8,818.2 1699.7,814.8 1694.6,815.8 1694.6,821.2 1689.4,822.2 1689.4,818.9 1685.3,814.8 1685.3,814.5 1681.2,810.4 1675.0,782.2 1670.8,751.2 1666.7,726.4 1666.7,728.5 1662.6,736.8 1656.4,767.8 1656.4,768.8 1652.2,768.8 1652.2,768.1 1648.1,768.1 1644.0,747.1 1639.8,709.9 1635.7,668.6 1631.6,627.3 1627.4,596.3 1627.4,596.1 1621.2,581.6 1621.2,583.9 1617.1,585.9 1617.1,580.9 1613.0,583.0 1613.0,588.1 1608.8,588.1 1608.8,586.2 1604.7,586.2 1600.6,565.3 1597.5,534.3 1594.4,507.4 1592.3,524.0 1590.2,586.0 1586.1,637.6 1582.0,709.9 1577.9,738.8 1577.8,738.8 1573.7,743.0 1573.7,742.9 1569.6,747.1 1569.6,745.0 1565.5,747.0 1565.4,749.0 1561.3,751.0 1561.3,748.6 1557.2,742.4 1557.2,745.0 1553.1,738.8 1546.9,709.9 1542.7,681.0 1542.7,678.8 1538.6,666.4 1538.6,667.0 1532.4,675.3 1528.3,699.6 1528.3,698.2 1524.1,701.3 1524.1,703.0 1520.0,706.1 1520.0,706.5 1520.0,708.8 1515.5,707.8 1515.5,705.2 1511.0,704.2 1511.0,706.0 1507.2,707.9 1507.2,706.7 1503.4,708.6 1503.4,709.5 1499.6,718.1 1499.6,715.1 1495.8,723.7 1495.8,727.5 1490.1,719.9 1490.1,719.6 1486.3,711.1 1486.3,711.7 1482.5,703.1 1482.5,701.8 1476.8,692.3 1476.8,692.9 1471.1,706.3 1471.1,705.2 1467.3,708.1 1467.3,709.8 1463.5,712.6 1463.5,708.3 1458.7,710.2 1458.7,713.9 1454.0,715.8 1454.0,716.5 1450.2,727.9 1450.2,723.4 1446.4,734.8 1446.4,736.0 1441.6,738.8 1441.6,741.4 1436.9,744.3 1436.8,741.0 1433.0,745.8 1433.0,745.2 1429.2,750.0 1429.2,749.7 1425.4,757.3 1425.4,758.2 1421.6,765.8 1421.6,768.3 1415.9,775.9 1415.9,777.7 1412.1,774.8 1412.1,769.2 1408.3,766.3 1402.6,752.1 1402.6,749.2 1397.9,735.9 1394.1,708.4 1391.2,676.0 1391.2,676.8 1388.3,674.9 1385.5,708.4 1381.7,729.3 1381.7,731.3 1376.0,742.7 1376.0,738.6 1372.2,731.9 1372.2,735.8 1368.4,729.1 1368.4,729.8 1362.7,726.0 1357.0,750.2 1357.0,752.2 1353.2,759.8 1353.1,755.2 1349.4,762.8 1349.3,767.6 1345.5,770.4 1345.5,770.9 1341.7,773.7 1341.7,770.3 1337.0,769.4 1337.0,771.2 1332.2,770.2 1332.2,770.1 1327.5,770.1 1327.5,768.8 1322.7,768.8 1322.7,769.1 1318.0,772.0 1318.0,770.9 1313.2,773.8 1313.2,773.4 1309.4,771.5 1309.4,771.7 1305.6,769.8 1305.6,772.5 1300.8,772.5 1300.8,768.2 1296.1,768.2 1296.1,769.3 1292.3,768.3 1292.3,769.8 1288.5,768.8 1288.5,767.8 1282.8,750.6 1282.8,751.4 1279.0,743.8 1279.0,743.1 1275.2,735.5 1275.2,739.0 1271.4,736.2 1271.4,733.2 1267.6,730.3 1267.5,733.2 1263.8,726.5 1263.7,722.3 1259.9,715.6 1259.9,718.2 1255.2,722.9 1255.2,721.4 1250.4,726.2 1250.4,727.2 1246.6,728.2 1246.6,730.2 1242.8,731.2 1242.8,731.2 1239.0,725.5 1239.0,724.4 1235.2,718.7 1235.2,717.0 1230.5,718.0 1230.5,721.6 1225.7,722.6 1220.0,738.8 1220.0,735.9 1220.0,734.2 1214.8,738.0 1214.8,740.1 1211.0,745.8 1211.0,745.2 1207.2,750.9 1207.2,751.9 1203.4,754.8 1203.4,755.8 1199.6,758.7 1199.6,758.5 1194.9,756.6 1194.9,752.7 1190.1,750.8 1190.1,751.3 1186.3,748.4 1186.3,749.5 1182.5,746.6 1182.5,749.1 1176.8,733.9 1176.8,730.4 1173.0,728.5 1173.0,730.3 1169.2,728.4 1163.5,756.8 1163.5,759.4 1159.7,766.1 1159.7,764.9 1155.9,771.6 1155.9,768.5 1152.1,773.2 1152.1,773.5 1148.3,778.2 1148.3,778.7 1144.5,784.4 1144.5,786.5 1140.7,792.2 1140.6,790.6 1136.9,796.3 1136.8,796.3 1133.0,802.0 1133.0,799.5 1129.2,801.4 1129.2,803.8 1125.4,805.7 1125.4,804.9 1121.6,805.9 1121.6,804.5 1117.8,805.5 1117.8,807.3 1112.1,814.9 1112.1,818.7 1108.3,818.7 1108.3,813.5 1104.5,813.5 1104.5,817.3 1100.7,813.5 1100.7,811.3 1096.9,807.5 1096.9,809.3 1091.2,796.0 1087.4,775.8 1083.6,753.0 1081.7,705.4 1077.9,663.6 1077.9,661.9 1074.1,659.9 1070.3,709.2 1066.5,756.8 1062.7,772.0 1062.7,774.7 1057.0,780.4 1057.0,777.2 1053.2,771.5 1053.1,772.1 1049.4,766.4 1043.6,745.4 1039.8,724.5 1039.8,726.4 1034.1,734.0 1028.4,758.7 1022.7,779.6 1022.7,780.5 1018.9,784.3 1018.9,783.5 1015.1,787.3 1015.1,788.5 1009.4,775.2 1009.4,774.2 1005.6,768.5 1005.6,768.7 1001.8,763.0 996.1,734.0 992.3,715.0 992.3,712.6 986.6,701.1 986.6,703.7 982.8,711.3 982.8,713.8 979.0,721.4 979.0,720.4 975.2,722.3 975.2,718.6 971.4,720.5 965.7,747.3 959.9,770.1 959.9,770.4 954.2,785.6 954.2,782.6 950.4,788.3 950.4,793.9 946.6,799.6 946.6,796.7 942.8,800.5 942.8,799.9 939.0,803.7 939.0,806.0 934.3,804.1 934.3,803.4 929.5,801.5 929.5,798.7 924.8,798.7 924.7,803.1 920.0,803.1 920.0,804.4 920.0,805.4 914.8,795.9 914.8,794.3 909.1,781.0 905.3,766.3 901.5,747.3 897.7,724.5 893.9,690.2 890.1,667.4 890.1,668.1 886.3,666.2 886.3,665.2 880.6,676.6 880.6,676.4 874.9,689.8 871.1,709.2 867.3,735.9 863.5,758.7 859.7,773.9 854.0,792.9 848.3,812.0 848.3,810.5 842.6,820.0 842.6,822.3 836.9,829.9 836.8,830.4 833.0,829.4 833.0,829.8 829.2,828.9 829.2,826.7 825.4,824.8 825.4,822.9 821.6,821.0 821.6,824.1 817.8,822.2 817.8,820.4 814.0,818.5 814.0,819.3 810.2,817.4 810.2,818.5 806.4,816.6 806.4,816.8 802.6,814.9 802.6,816.0 798.8,814.1 798.8,813.2 795.0,813.2 795.0,813.6 791.2,813.6 791.2,814.2 787.4,813.3 787.4,812.3 783.6,811.4 783.6,808.4 779.8,808.4 779.8,809.6 776.0,809.6 776.0,811.6 772.2,813.5 772.2,812.4 768.4,814.3 768.4,813.4 764.6,812.5 764.6,815.4 760.8,814.4 760.8,813.4 757.0,815.3 757.0,813.3 753.2,815.2 753.1,816.4 747.4,814.5 747.4,811.7 743.6,807.0 743.6,808.9 739.8,804.1 739.8,805.2 734.1,791.8 734.1,791.0 728.4,789.1 728.4,790.3 723.7,792.2 723.7,792.8 718.9,794.7 718.9,792.3 715.1,793.3 715.1,791.1 711.3,792.0 711.3,794.2 707.5,796.1 707.5,795.0 703.7,796.9 703.7,796.3 699.9,792.5 699.9,795.7 696.1,791.9 696.1,789.2 692.3,788.3 692.3,789.7 688.5,788.7 688.5,790.5 684.7,786.7 684.7,787.1 680.9,783.3 680.9,784.4 675.2,780.6 675.2,777.0 669.5,780.8 669.4,779.1 665.7,783.9 665.6,789.1 661.8,793.8 661.8,788.7 658.0,790.6 658.0,794.3 654.2,796.2 654.2,797.7 650.4,799.6 650.4,794.9 646.6,796.8 646.6,797.6 640.9,784.3 635.2,812.0 635.2,809.9 631.4,815.6 631.4,817.8 627.6,823.5 627.6,822.3 621.5,821.7 621.5,821.2 617.7,822.2 617.7,821.6 613.9,822.6 613.9,822.5 610.1,823.5 610.1,827.6 606.3,828.6 606.3,827.7 602.5,829.6 602.5,827.2 598.7,829.1 598.7,828.5 594.9,827.5 594.9,827.8 591.1,826.9 591.1,830.7 587.3,832.6 587.3,830.1 583.5,832.0 583.5,830.0 577.8,828.1 577.8,830.8 573.0,830.8 573.0,832.0 568.3,832.0 568.3,830.0 562.6,826.2 562.6,824.5 558.8,819.8 558.7,823.2 555.0,818.5 554.9,818.0 550.2,818.0 550.2,819.1 545.4,819.1 545.4,814.9 541.6,815.9 541.6,816.9 537.8,817.9 537.8,818.0 534.0,818.0 534.0,819.8 530.2,819.8 530.2,820.4 525.5,819.5 525.5,819.5 520.7,818.5 520.7,817.2 516.0,817.2 515.9,816.8 511.2,816.8 511.2,815.4 506.4,815.4 506.4,819.3 501.7,819.3 501.7,816.3 496.9,816.3 496.9,817.0 492.2,817.0 492.2,819.4 488.4,817.5 488.4,813.7 484.6,811.8 484.6,811.4 480.8,804.8 480.8,803.7 477.0,797.0 477.0,802.2 471.3,798.4 471.2,793.6 465.5,801.2 465.5,806.0 459.8,819.4 459.8,816.4 454.1,827.8 454.1,827.8 450.3,826.9 450.3,826.6 446.5,825.7 446.5,827.3 442.7,827.3 442.7,828.2 438.9,828.2 438.9,827.7 435.1,828.7 435.1,829.2 431.3,830.2 431.3,825.9 427.5,825.0 427.5,828.3 423.7,827.3 423.7,824.2 419.9,826.1 419.9,828.4 416.1,830.3 416.1,831.5 412.3,830.6 412.3,827.7 408.5,826.7 408.5,827.1 402.8,819.5 402.8,818.9" fill="#800080" stroke="#800080" stroke-width="1.5" stroke-linejoin="round"/>
<polygon points="350.5,1014.2 350.5,1007.5 355.2,1001.8 355.2,1006.2 360.0,1001.9 360.0,1000.1 364.7,995.8 364.7,996.1 368.5,998.5 368.5,999.2 372.3,1001.6 372.3,1002.4 376.1,1004.3 376.1,1002.5 379.9,1004.4 379.9,1004.4 383.7,1005.3 383.8,1005.4 387.5,1006.4 387.6,1006.8 391.4,1005.8 391.4,1005.2 395.2,1004.3 395.2,1004.8 399.0,1006.7 399.0,1003.9 402.8,1005.8 402.8,1008.5 406.6,1006.6 406.6,1005.3 410.4,1003.4 410.4,1005.3 414.2,1004.3 414.2,1000.4 418.0,999.4 418.0,999.9 423.7,998.0 423.7,999.9 427.5,984.8 431.3,984.3 431.3,988.7 435.1,988.2 435.1,989.1 438.9,988.1 438.9,986.6 442.7,985.6 442.7,983.9 448.4,993.4 448.4,996.1 454.1,1003.7 454.1,1001.8 457.0,982.6 463.6,980.7 463.6,979.3 469.3,971.7 469.4,969.9 473.1,967.1 473.2,967.3 477.0,964.5 477.0,965.2 482.2,964.2 482.2,963.6 487.4,962.7 487.4,963.3 492.2,970.9 492.2,971.4 496.0,985.5 501.7,993.1 501.7,994.9 507.4,989.2 507.4,983.9 513.1,985.8 513.1,988.9 518.8,1000.3 518.8,997.1 522.6,993.3 522.6,993.8 526.4,990.0 526.4,994.1 530.2,993.2 530.2,991.8 534.0,990.8 534.0,992.9 539.7,998.6 539.7,995.8 544.5,995.8 544.5,993.2 549.2,993.2 549.2,995.4 554.0,994.5 554.0,995.7 558.7,994.7 558.8,996.8 563.5,996.8 563.5,997.1 568.3,997.1 568.3,994.0 573.0,994.5 573.0,994.1 577.8,994.6 577.8,992.8 582.5,992.3 582.5,995.5 587.3,995.1 587.3,992.5 592.0,990.6 592.0,990.2 596.8,988.3 596.8,987.5 601.5,984.6 601.6,984.6 606.3,981.7 606.3,985.8 610.1,985.8 610.1,982.4 613.9,982.4 613.9,987.5 617.7,986.5 617.7,981.3 621.5,980.3 621.5,985.0 625.3,982.1 625.3,977.7 629.1,974.8 629.1,974.2 632.9,971.3 632.9,975.5 640.0,961.0 640.0,958.2 643.8,952.5 643.8,955.4 647.6,949.7 647.6,946.4 651.4,948.3 651.4,947.5 655.2,949.4 655.2,953.8 660.0,952.8 660.0,952.5 664.7,951.5 664.7,952.4 668.5,946.6 668.5,945.9 672.3,940.2 672.3,936.3 676.1,937.3 676.1,940.5 679.9,941.5 679.9,942.0 684.7,942.4 684.7,941.0 689.4,941.4 689.5,944.3 693.3,951.4 693.3,947.3 697.1,954.5 697.1,958.7 700.9,964.4 700.9,962.9 704.7,968.6 704.7,964.4 708.5,963.5 708.5,963.5 712.3,962.5 712.3,966.3 716.1,963.5 716.1,964.5 719.9,961.6 719.9,957.2 723.7,957.2 723.7,958.6 727.5,958.6 727.5,961.1 731.3,963.0 731.3,959.6 735.1,961.5 735.1,965.7 740.8,967.6 740.8,965.4 744.6,971.1 744.6,968.5 748.4,974.2 748.4,976.1 754.1,983.7 754.1,984.9 757.9,982.1 757.9,981.2 761.7,978.4 761.7,979.8 767.4,966.5 767.4,963.3 773.1,965.2 773.2,969.1 777.0,978.6 777.0,976.0 780.8,976.0 780.8,977.7 784.6,977.7 784.6,977.6 788.4,977.6 788.4,976.4 792.2,976.4 792.2,976.2 796.0,974.3 796.0,976.7 799.8,974.8 799.8,975.7 805.5,985.2 805.5,984.3 809.3,986.2 809.3,984.9 813.1,986.8 813.1,985.1 818.8,996.5 818.8,995.1 822.6,996.1 822.6,1001.6 826.4,1002.5 826.4,1000.9 830.2,1000.9 830.2,1001.6 834.0,1001.6 834.0,998.7 837.8,995.8 837.8,997.5 841.6,994.6 841.6,996.8 847.3,979.7 847.3,978.8 853.0,963.6 853.0,961.6 856.9,935.0 858.8,906.5 864.5,883.6 868.3,858.9 872.1,840.5 877.8,832.9 877.8,832.3 881.6,807.6 885.4,787.4 891.1,787.4 891.1,788.5 893.9,807.6 896.8,830.4 900.6,858.9 906.3,912.2 910.1,940.7 915.8,968.8 921.5,976.4 921.5,979.2 925.3,982.0 925.3,979.0 929.1,981.8 929.1,983.7 932.9,985.6 932.9,985.1 936.7,987.0 936.7,988.7 940.0,990.6 940.0,988.3 940.0,989.1 945.7,972.0 950.5,965.3 950.5,962.2 955.2,955.5 955.2,953.8 959.0,942.4 959.0,944.0 962.8,932.6 962.8,933.5 966.6,923.0 966.6,924.0 970.4,913.6 970.4,913.0 976.1,888.3 979.9,880.7 979.9,881.1 983.7,873.5 983.8,868.5 990.4,859.9 990.4,864.6 995.2,867.5 995.2,865.5 999.0,890.2 1004.7,918.8 1010.4,947.3 1016.1,954.9 1016.1,955.2 1021.8,951.4 1021.8,949.2 1027.5,928.3 1033.2,907.8 1037.0,904.9 1037.0,903.1 1040.8,900.3 1040.8,903.7 1044.6,907.5 1044.6,907.3 1048.4,911.1 1048.4,909.2 1054.1,938.9 1059.8,954.1 1059.8,953.0 1063.6,928.3 1065.5,833.2 1069.4,757.1 1073.2,721.5 1077.0,712.9 1077.0,710.5 1080.8,726.6 1084.6,776.1 1088.4,871.2 1092.2,928.3 1096.0,970.1 1101.7,995.8 1107.4,999.6 1107.4,998.1 1111.2,999.0 1111.2,1001.8 1115.0,1002.8 1115.0,1004.2 1118.8,1005.2 1118.8,1001.6 1122.6,1002.6 1122.6,1005.9 1126.4,1003.0 1126.4,1004.1 1130.2,1001.2 1130.2,997.1 1135.9,983.7 1135.9,986.0 1139.7,980.3 1139.7,980.7 1143.5,975.0 1143.5,973.7 1147.3,971.8 1147.3,970.3 1151.1,968.4 1151.1,968.6 1154.9,957.2 1155.0,960.2 1158.7,948.8 1158.8,947.3 1164.5,931.9 1168.3,925.3 1168.3,923.3 1172.1,916.6 1172.1,914.4 1175.9,917.2 1175.9,921.5 1179.7,924.4 1179.7,922.6 1185.4,945.1 1189.2,946.1 1189.2,942.8 1193.0,943.8 1193.0,945.9 1196.8,955.4 1196.8,957.3 1200.6,958.2 1200.6,958.2 1204.4,959.1 1204.4,956.9 1208.2,956.0 1208.2,955.7 1212.0,954.8 1212.0,955.4 1217.7,945.9 1217.7,943.5 1223.4,928.3 1223.4,928.3 1229.1,934.0 1229.1,934.0 1232.9,936.8 1232.9,939.9 1236.7,942.8 1236.7,940.8 1240.0,942.7 1240.0,943.5 1240.0,942.8 1245.7,937.1 1245.7,936.2 1251.4,920.9 1251.4,921.6 1255.2,920.7 1255.2,918.5 1259.0,917.5 1259.0,916.9 1262.8,915.9 1262.8,921.7 1266.6,920.7 1266.6,917.0 1272.3,918.9 1272.3,919.6 1278.0,938.2 1281.8,948.7 1281.8,951.8 1285.6,962.3 1285.7,963.2 1289.4,963.2 1289.5,959.4 1293.3,959.4 1293.3,962.1 1299.0,954.5 1299.0,952.9 1302.8,953.9 1302.8,954.9 1306.6,955.9 1306.6,952.9 1312.3,945.3 1312.3,945.4 1316.1,951.1 1316.1,956.8 1319.9,962.5 1319.9,961.8 1324.6,962.7 1324.6,960.4 1329.4,961.4 1329.4,961.9 1333.2,961.9 1333.2,960.0 1337.0,960.0 1337.0,963.2 1342.7,949.8 1342.7,948.2 1346.5,924.9 1350.3,923.9 1350.3,927.1 1354.1,926.1 1354.1,925.0 1359.8,926.0 1359.8,926.3 1365.5,927.2 1365.5,928.1 1369.3,926.2 1369.4,922.0 1373.1,920.1 1373.2,921.5 1377.0,906.3 1378.9,877.8 1380.8,855.0 1386.5,831.3 1392.2,829.4 1392.2,830.3 1397.9,834.1 1397.9,835.9 1400.7,855.0 1403.6,883.5 1405.5,917.7 1409.3,942.4 1415.0,950.0 1415.0,949.5 1420.7,951.4 1420.7,953.9 1424.5,934.1 1430.2,920.7 1430.2,923.8 1434.0,920.9 1434.0,922.8 1437.8,919.9 1437.8,917.5 1441.6,915.6 1441.6,918.5 1445.4,916.6 1445.4,916.4 1451.1,916.4 1451.1,913.9 1455.0,894.2 1458.7,892.3 1458.8,895.5 1462.6,893.6 1462.6,892.4 1468.3,881.0 1468.3,879.3 1473.0,878.4 1473.0,883.4 1477.8,882.4 1477.8,878.2 1483.5,885.8 1483.5,887.7 1489.2,902.9 1489.2,903.4 1493.0,903.4 1493.0,905.2 1496.8,905.2 1496.8,903.5 1500.6,905.4 1500.6,903.8 1504.4,905.7 1504.4,906.0 1510.1,892.7 1510.1,891.0 1513.9,890.0 1513.9,894.8 1517.7,893.9 1517.7,894.0 1523.4,895.9 1523.4,893.0 1527.2,875.9 1531.0,859.0 1536.7,855.2 1536.7,854.1 1540.0,856.0 1540.0,858.8 1540.0,857.3 1543.8,866.8 1543.8,867.4 1547.6,876.9 1547.6,877.8 1553.3,906.3 1559.0,933.5 1564.7,941.1 1564.7,938.6 1570.4,921.5 1576.1,883.5 1579.9,839.7 1583.8,782.7 1587.6,716.1 1591.4,676.7 1597.1,671.0 1597.1,668.5 1600.9,687.6 1604.7,735.1 1608.5,775.2 1614.2,782.8 1614.2,778.0 1619.9,776.1 1619.9,780.6 1623.7,785.3 1623.7,784.9 1627.5,789.6 1627.5,789.3 1631.3,794.0 1631.3,796.0 1635.1,800.8 1635.1,797.9 1640.8,815.0 1642.7,858.8 1644.6,902.5 1648.4,918.9 1654.1,920.8 1654.1,923.4 1657.9,906.3 1663.6,885.2 1669.3,885.2 1669.4,887.3 1673.2,902.5 1678.9,936.7 1684.6,971.0 1690.3,991.5 1694.1,994.4 1694.1,995.5 1697.9,998.4 1697.9,996.8 1701.7,995.8 1701.7,993.6 1705.5,992.6 1705.5,994.4 1709.3,993.4 1709.3,994.4 1713.1,993.5 1713.1,989.5 1716.9,990.5 1716.9,991.8 1720.7,992.8 1720.7,992.4 1725.5,990.5 1725.5,989.7 1730.2,987.8 1730.2,989.9 1735.0,991.8 1735.0,989.9 1739.7,991.8 1739.7,992.2 1744.5,993.2 1744.5,992.6 1749.2,993.6 1749.2,996.8 1755.1,993.0 1755.1,989.0 1760.9,985.2 1760.9,989.4 1764.7,995.1 1764.7,992.0 1768.5,997.7 1768.5,996.7 1773.3,993.9 1773.3,999.2 1778.0,996.4 1778.0,992.1 1782.8,989.3 1782.8,993.6 1787.5,990.7 1787.6,990.3 1791.4,987.5 1791.4,987.6 1795.2,984.7 1795.2,980.2 1799.9,980.2 1799.9,982.1 1804.7,982.1 1804.7,980.0 1808.5,976.2 1808.5,981.2 1812.3,977.4 1812.3,976.8 1817.0,975.9 1817.0,974.6 1821.8,973.7 1821.8,972.9 1827.5,953.9 1833.2,921.2 1838.9,906.0 1838.9,906.3 1842.7,874.9 1846.5,873.0 1846.5,875.9 1850.3,874.0 1850.3,871.9 1854.1,871.9 1854.1,872.8 1857.9,872.8 1857.9,869.9 1862.7,873.7 1862.7,874.2 1867.4,878.0 1867.4,879.7 1873.2,910.1 1878.9,936.7 1884.6,960.7 1888.4,970.2 1888.4,974.2 1892.2,983.7 1892.2,982.7 1896.0,989.4 1896.0,986.9 1899.8,993.6 1899.8,997.9 1903.6,997.0 1903.6,993.4 1907.4,992.4 1907.4,993.3 1911.2,992.3 1911.2,990.8 1915.0,989.8 1915.0,990.5 1918.8,992.4 1918.8,995.9 1922.6,997.8 1922.6,994.7 1926.4,999.5 1926.4,998.5 1930.2,1003.2 1930.2,1005.2 1934.0,1003.3 1934.0,1002.2 1937.8,1000.3 1937.8,1003.8 1941.6,1001.0 1941.6,996.3 1945.4,993.4 1945.4,998.6 1950.2,993.8 1950.2,988.3 1954.9,983.5 1955.0,988.6 1960.6,988.6 1960.7,987.2 1966.4,996.7 1966.4,994.0 1972.1,1005.4 1972.1,1007.0 1975.9,1008.9 1975.9,1007.7 1979.7,1009.7 1979.7,1009.5 1983.5,1008.5 1983.5,1008.2 1987.3,1007.2 1987.3,1008.2 1993.9,1013.9 1993.9,1014.7 1994.9,1018.5 1994.9,1018.5 1994.9,1019.7 1993.9,1021.6 1993.9,1022.8 1989.2,1034.2 1989.2,1029.5 1985.4,1032.4 1985.4,1034.8 1981.6,1037.6 1981.6,1039.5 1977.8,1038.6 1977.8,1039.5 1974.0,1038.5 1974.0,1034.6 1970.2,1035.5 1970.2,1034.6 1966.4,1035.6 1966.4,1039.5 1962.6,1038.5 1962.6,1036.8 1958.8,1035.8 1958.7,1034.7 1955.0,1031.9 1954.9,1035.8 1951.1,1032.9 1951.1,1030.7 1947.3,1027.9 1947.3,1026.7 1943.5,1023.9 1943.5,1024.2 1939.7,1026.1 1939.7,1028.9 1935.9,1030.8 1935.9,1030.3 1932.1,1033.2 1932.1,1031.4 1928.3,1034.2 1928.3,1034.1 1924.5,1031.3 1924.5,1030.3 1920.7,1027.5 1920.7,1027.3 1916.9,1024.4 1916.9,1022.8 1913.1,1019.9 1913.1,1022.5 1909.3,1027.3 1909.3,1028.2 1905.5,1032.9 1905.5,1034.5 1899.8,1032.6 1899.8,1029.1 1895.0,1023.4 1895.0,1024.8 1890.3,1019.1 1890.3,1017.7 1886.5,1012.9 1886.5,1013.1 1882.7,1008.4 1877.0,982.4 1871.3,959.6 1865.5,936.7 1861.7,923.4 1857.9,908.2 1857.9,909.3 1854.1,913.1 1854.1,912.1 1850.3,919.7 1850.3,919.7 1846.5,927.3 1838.9,952.0 1833.2,974.8 1827.5,1003.3 1823.7,1014.7 1823.7,1017.7 1818.9,1018.7 1818.9,1015.9 1814.2,1016.9 1814.2,1018.3 1809.4,1018.3 1809.4,1019.2 1804.7,1019.2 1804.7,1016.6 1800.9,1017.6 1800.9,1018.0 1797.1,1018.9 1797.1,1015.8 1793.3,1015.8 1793.3,1015.6 1789.5,1015.6 1789.4,1021.0 1784.7,1020.1 1784.7,1017.2 1779.9,1016.2 1779.9,1014.9 1774.2,1022.5 1774.2,1027.0 1769.5,1029.9 1769.5,1029.1 1764.7,1032.0 1764.7,1032.0 1758.8,1026.3 1758.7,1023.2 1753.0,1024.1 1753.0,1027.7 1747.3,1028.7 1747.3,1023.7 1742.6,1025.6 1742.6,1028.5 1737.8,1030.4 1737.8,1030.4 1733.1,1026.6 1733.1,1024.0 1728.3,1020.2 1728.3,1021.2 1723.6,1023.1 1723.6,1022.4 1718.8,1024.3 1718.8,1025.8 1713.1,1026.8 1713.1,1027.1 1707.4,1028.1 1707.4,1030.2 1703.6,1030.2 1703.6,1029.8 1699.8,1029.8 1699.8,1027.0 1695.0,1026.0 1695.0,1026.4 1690.3,1025.5 1690.3,1026.5 1686.5,1019.8 1686.5,1018.8 1682.7,1012.2 1677.0,982.4 1677.0,981.2 1671.3,965.9 1665.5,944.4 1665.5,945.7 1661.7,955.2 1657.9,976.7 1657.9,976.4 1652.2,978.3 1646.5,952.0 1638.9,925.3 1635.1,898.7 1631.3,849.2 1627.5,824.5 1627.5,824.2 1621.8,822.3 1618.0,839.7 1618.0,839.0 1612.3,837.1 1612.3,838.5 1606.6,827.1 1602.8,803.6 1599.0,763.6 1599.0,765.9 1595.2,756.4 1591.4,773.2 1587.6,811.2 1583.8,887.3 1579.9,940.6 1579.9,942.3 1574.2,957.5 1574.2,955.3 1570.4,961.0 1570.4,961.9 1566.6,967.6 1566.6,970.0 1562.8,970.0 1562.8,967.2 1559.0,967.2 1559.0,967.7 1555.2,960.1 1555.2,961.2 1551.4,953.6 1545.7,931.0 1540.0,910.1 1540.0,894.9 1540.0,891.9 1536.7,895.7 1531.0,919.6 1531.0,921.9 1527.2,924.7 1527.2,920.2 1523.4,923.1 1523.4,927.8 1518.7,928.8 1518.7,927.5 1513.9,928.5 1513.9,928.9 1510.1,928.0 1510.1,926.1 1506.3,925.2 1506.3,926.9 1502.5,929.7 1502.5,929.6 1498.7,932.5 1498.7,932.5 1493.0,942.0 1493.0,940.7 1489.2,935.9 1489.2,937.7 1485.4,933.0 1485.4,933.1 1480.6,930.3 1480.6,928.9 1475.9,926.0 1475.9,926.4 1472.1,924.5 1472.1,922.5 1468.3,920.6 1468.3,920.6 1464.5,926.3 1464.5,925.2 1460.7,930.9 1460.6,934.4 1455.9,938.2 1455.9,939.5 1451.1,943.3 1447.3,959.6 1447.3,957.9 1441.6,950.3 1441.6,949.6 1437.8,951.5 1437.8,955.3 1434.0,957.2 1434.0,955.4 1428.3,966.8 1428.3,966.5 1422.6,974.1 1422.6,972.2 1418.8,972.2 1418.8,974.4 1415.0,974.4 1415.0,977.0 1411.2,972.3 1411.2,967.4 1407.4,962.7 1407.4,963.2 1401.7,949.9 1397.9,927.2 1395.0,906.3 1392.2,885.4 1388.4,906.3 1384.6,921.5 1384.6,923.2 1378.9,938.4 1378.9,935.5 1375.1,938.4 1375.0,942.5 1371.3,945.4 1371.2,941.2 1367.4,944.0 1367.4,945.3 1363.6,948.1 1357.9,967.2 1357.9,967.5 1352.2,971.3 1352.2,969.4 1348.4,974.2 1348.4,977.9 1344.6,982.7 1344.6,979.6 1338.9,991.0 1338.9,989.0 1335.1,989.0 1335.1,992.4 1331.3,992.4 1331.3,991.2 1327.5,990.3 1327.5,991.0 1323.7,990.1 1323.7,988.3 1319.9,988.3 1319.9,988.5 1316.1,988.5 1316.1,988.9 1312.3,989.8 1312.3,990.8 1308.5,991.7 1308.5,992.6 1304.7,993.5 1304.7,993.2 1300.9,994.1 1300.9,993.6 1297.1,992.6 1297.1,994.1 1293.3,993.2 1293.3,990.1 1289.5,990.1 1289.4,992.8 1285.7,992.8 1285.6,992.3 1279.9,979.0 1274.2,959.6 1274.2,960.2 1268.5,954.5 1268.5,955.9 1263.8,955.0 1263.8,953.2 1259.0,952.2 1259.0,949.5 1255.2,949.5 1255.2,950.4 1251.4,950.4 1251.4,950.7 1245.7,962.1 1245.7,962.8 1240.0,966.6 1240.0,970.1 1240.0,968.9 1232.9,970.8 1232.9,969.8 1227.2,964.1 1227.2,964.1 1221.5,967.9 1221.5,968.0 1217.7,970.9 1217.7,973.2 1213.9,976.0 1213.9,975.6 1210.1,977.5 1210.1,976.3 1206.3,978.2 1206.3,979.7 1202.5,979.7 1202.5,982.4 1198.7,982.4 1198.7,980.2 1194.9,979.2 1194.9,976.4 1191.1,975.4 1191.1,978.6 1187.3,973.9 1187.3,971.8 1183.5,967.0 1183.5,966.9 1179.7,965.0 1179.7,969.0 1175.9,967.1 1175.9,964.0 1170.2,950.7 1166.4,985.3 1166.4,985.5 1160.7,996.9 1160.6,995.3 1156.9,998.1 1156.8,1000.3 1153.0,1003.2 1153.0,1005.0 1149.2,1007.9 1149.2,1005.6 1145.4,1008.4 1145.4,1006.8 1139.7,1020.1 1139.7,1022.5 1135.9,1024.4 1135.9,1022.0 1132.1,1023.9 1132.1,1026.1 1128.3,1027.1 1128.3,1023.4 1124.5,1024.4 1124.5,1029.5 1120.7,1033.3 1120.7,1033.3 1116.9,1037.1 1116.9,1036.6 1111.2,1027.1 1111.2,1026.1 1107.4,1024.2 1107.4,1026.0 1103.6,1024.1 1103.6,1023.1 1099.8,1018.4 1099.8,1019.5 1096.0,1014.8 1096.0,1009.8 1090.3,994.6 1086.5,970.1 1080.8,937.8 1076.0,897.8 1071.3,937.8 1065.5,970.1 1065.5,967.2 1061.7,969.1 1061.7,972.0 1056.0,966.3 1056.0,965.9 1050.3,962.1 1050.3,959.9 1043.7,956.1 1038.9,934.0 1035.1,954.9 1029.4,975.8 1029.4,976.0 1023.7,987.4 1023.7,986.4 1019.9,988.3 1019.9,989.9 1016.1,991.8 1016.1,990.6 1012.3,982.0 1012.3,981.0 1008.5,972.4 1002.8,951.1 997.1,928.3 993.3,909.2 993.3,911.9 989.5,902.3 983.8,924.5 976.1,947.3 968.5,970.1 968.5,972.9 964.7,984.3 964.7,981.6 960.9,993.0 960.9,990.3 957.1,996.0 957.1,1000.7 953.3,1006.4 953.3,1006.2 949.5,1009.1 949.5,1009.7 945.7,1012.5 945.7,1011.9 940.0,1015.7 940.0,1014.9 940.0,1017.8 936.7,1017.8 936.7,1014.5 932.9,1014.5 932.9,1013.9 929.1,1013.9 929.1,1013.3 925.3,1011.4 925.3,1012.0 921.5,1010.1 921.5,1012.8 915.8,1009.0 910.1,988.3 910.1,990.9 906.3,979.5 902.5,948.3 898.7,931.2 895.8,912.2 893.0,874.1 889.2,845.6 889.2,845.0 885.4,854.5 879.7,874.1 874.0,893.2 868.3,927.4 864.5,959.7 864.5,959.9 858.8,977.0 858.7,978.9 853.0,996.0 847.3,1013.0 847.3,1012.5 841.6,1022.0 841.6,1021.8 835.9,1029.4 835.9,1032.7 830.2,1027.0 830.2,1026.4 826.4,1024.5 826.4,1020.5 822.6,1018.6 822.6,1022.1 818.8,1020.2 818.8,1019.1 815.0,1017.2 815.0,1014.7 811.2,1008.0 811.2,1012.3 807.4,1005.7 807.4,1004.0 803.6,1005.0 803.6,1002.3 799.8,1003.2 799.8,1004.8 796.0,1005.8 796.0,1004.1 792.2,1005.0 792.2,1006.0 788.4,1007.9 788.4,1009.2 784.6,1011.1 784.6,1011.1 780.8,1007.3 780.8,1005.0 777.0,1001.2 777.0,1000.8 773.2,1000.8 773.1,1004.8 769.4,1004.8 769.3,1005.7 765.5,1003.8 765.5,999.2 761.7,997.3 761.7,1000.9 756.0,1012.3 756.0,1011.2 752.2,1011.2 752.2,1011.6 748.4,1011.6 748.4,1011.7 742.7,1000.3 742.7,996.8 738.9,994.9 738.9,995.9 735.1,994.0 735.1,997.1 729.4,1006.6 729.4,1003.0 723.7,1006.8 719.9,986.4 719.9,983.5 716.1,983.5 716.1,988.3 712.3,988.3 712.3,984.9 708.5,987.7 708.5,986.8 704.7,989.7 704.7,990.2 700.9,988.3 700.9,988.5 697.1,986.6 697.1,991.1 693.3,982.5 693.3,976.8 689.5,968.3 689.4,971.4 684.7,970.4 684.7,970.4 679.9,969.4 679.9,969.3 676.1,970.3 676.1,970.2 672.3,971.1 672.3,973.9 668.5,978.6 668.5,978.1 664.7,982.9 664.7,978.0 660.0,980.9 660.0,985.0 655.2,987.9 655.2,985.7 651.4,986.6 651.4,988.6 647.6,989.5 647.6,987.2 643.8,989.1 643.8,992.4 640.0,994.3 640.0,994.0 632.9,1009.4 632.9,1008.8 629.1,1010.7 629.1,1007.1 625.3,1009.0 625.3,1011.4 621.5,1013.3 621.5,1012.9 617.7,1015.7 617.7,1016.2 613.9,1019.0 613.9,1015.9 610.1,1015.9 610.1,1019.5 606.3,1019.5 606.3,1018.1 601.6,1020.0 601.5,1018.8 596.8,1020.7 596.8,1021.9 592.0,1021.0 592.0,1023.8 587.3,1022.8 587.3,1018.9 583.5,1019.9 583.5,1020.4 579.7,1021.3 579.7,1025.0 574.9,1025.0 574.9,1022.6 570.2,1022.6 570.2,1025.2 564.5,1032.8 564.5,1027.4 558.8,1023.6 558.7,1026.5 554.0,1023.6 554.0,1025.9 549.2,1023.0 549.2,1022.9 545.4,1021.9 545.4,1018.9 541.6,1017.9 541.6,1020.8 537.8,1022.7 537.8,1018.2 534.0,1020.1 534.0,1024.1 530.2,1026.0 530.2,1024.1 526.4,1026.0 526.4,1027.9 522.6,1026.0 522.6,1022.0 518.8,1020.1 518.8,1020.9 513.1,1026.6 513.1,1028.9 507.4,1030.8 507.4,1032.2 501.7,1026.5 501.7,1025.9 496.0,1016.4 496.0,1015.8 492.2,1012.0 492.2,1009.5 488.4,1005.7 488.4,1006.1 484.6,1002.3 484.6,1003.7 480.8,999.9 480.8,1000.5 475.1,996.7 475.0,993.6 469.4,997.4 469.3,997.4 463.6,1008.8 463.6,1009.5 457.9,1017.1 457.9,1020.2 454.1,1024.0 454.1,1024.3 450.3,1028.1 450.3,1024.6 446.5,1023.7 446.5,1023.4 442.7,1022.5 442.7,1025.1 438.0,1026.0 438.0,1023.9 433.2,1024.8 433.2,1029.0 429.4,1030.9 429.4,1028.0 425.6,1029.9 425.6,1028.4 419.9,1024.6 419.9,1026.7 416.1,1024.8 416.1,1026.6 412.3,1024.7 412.3,1019.7 408.5,1024.5 408.5,1025.3 404.7,1030.1 404.7,1031.3 400.9,1032.2 400.9,1035.0 397.1,1036.0 397.1,1031.2 393.3,1029.3 393.3,1035.1 389.5,1033.2 389.4,1029.1 385.7,1031.9 385.6,1034.5 381.8,1037.4 381.8,1033.4 377.1,1030.5 377.1,1035.6 372.3,1032.7 372.3,1029.1 367.6,1031.0 367.6,1029.8 362.8,1031.7 362.8,1036.7 359.0,1033.8 359.0,1034.3 355.2,1031.4 355.2,1031.4 350.5,1021.9 350.5,1014.2" fill="#00ff00" stroke="#00ff00" stroke-width="1.5" stroke-linejoin="round"/>
<polygon points="403.9,1232.8 404.9,1229.5 408.2,1194.8 414.8,1193.2 414.8,1191.2 419.8,1212.5 426.5,1212.5 426.5,1211.9 433.1,1221.9 433.2,1219.1 438.1,1217.4 438.1,1215.8 443.1,1214.1 443.1,1214.9 448.1,1208.3 448.1,1209.6 453.1,1203.0 453.1,1202.9 459.8,1189.6 459.8,1187.7 464.8,1186.0 464.8,1186.0 469.8,1184.3 469.8,1187.0 476.4,1183.7 476.4,1183.5 481.4,1183.5 481.4,1182.0 486.4,1182.0 486.4,1185.9 493.1,1199.2 493.1,1197.0 498.1,1198.7 498.1,1195.1 503.1,1196.8 503.1,1199.0 508.0,1200.7 508.1,1202.9 513.0,1204.6 513.1,1201.7 518.0,1203.4 518.0,1205.7 523.0,1207.4 523.0,1203.2 529.7,1193.3 529.7,1195.1 533.8,1193.4 533.9,1196.6 538.0,1195.0 538.0,1193.4 542.2,1200.1 542.2,1200.6 546.3,1207.2 546.3,1204.4 553.0,1187.7 553.0,1189.6 559.6,1202.9 559.7,1203.2 564.6,1206.5 564.7,1204.8 569.6,1208.1 569.6,1210.4 574.6,1208.8 574.6,1208.1 579.6,1206.4 579.6,1209.2 584.6,1207.5 584.6,1205.0 589.6,1203.3 589.6,1202.4 594.6,1205.7 594.6,1203.9 599.6,1207.3 599.6,1207.5 604.6,1199.2 604.6,1202.8 609.6,1194.5 609.6,1190.5 614.6,1188.9 614.6,1188.8 619.6,1187.2 619.6,1187.6 624.6,1185.9 624.6,1188.0 629.6,1186.4 629.6,1186.2 632.2,1151.6 634.0,1151.9 634.0,1150.0 636.5,860.0 639.0,830.7 646.0,829.7 646.0,829.0 648.5,850.0 649.5,1149.6 650.0,1150.0 652.9,1168.1 659.5,1171.4 659.5,1167.0 666.2,1163.6 666.2,1163.3 672.8,1150.0 672.8,1154.6 679.5,1151.2 679.5,1148.6 686.2,1168.5 686.2,1170.9 691.1,1174.2 691.2,1172.0 696.1,1175.4 696.2,1174.3 702.8,1180.9 702.8,1181.5 707.8,1184.8 707.8,1183.8 712.8,1187.2 712.8,1192.0 717.8,1188.7 717.8,1186.7 722.8,1183.4 722.8,1182.0 729.4,1175.3 729.4,1176.0 736.1,1162.6 736.1,1162.3 742.7,1178.9 742.8,1176.9 747.7,1183.6 747.8,1188.6 752.7,1195.2 752.7,1193.4 757.7,1186.7 757.7,1189.0 762.7,1182.3 762.7,1179.2 767.7,1176.7 767.7,1177.8 772.7,1175.3 772.7,1173.1 777.7,1175.6 777.7,1174.3 782.7,1176.8 782.7,1182.2 787.7,1185.5 787.7,1185.0 792.7,1188.4 792.7,1185.1 799.3,1188.5 799.4,1192.0 806.6,1188.7 806.6,1188.2 811.6,1193.2 811.6,1190.1 816.6,1195.1 816.6,1196.9 821.6,1203.5 821.6,1205.7 826.6,1212.3 826.6,1209.6 831.6,1211.2 831.6,1213.9 836.6,1215.6 836.6,1211.4 841.6,1201.4 841.6,1202.3 846.6,1192.3 846.6,1192.9 853.3,1166.3 859.9,1133.0 866.6,1106.4 873.2,1073.1 879.9,1051.1 884.0,1046.1 884.0,1043.1 888.2,1038.1 888.2,1038.7 893.2,1048.6 893.2,1049.8 898.2,1079.7 903.2,1113.0 909.8,1146.3 916.5,1171.9 923.2,1185.2 923.2,1182.9 928.1,1181.2 928.2,1183.0 933.1,1181.4 933.2,1178.1 938.1,1171.4 938.1,1171.0 942.3,1174.3 942.3,1175.4 946.5,1178.8 946.5,1177.7 953.1,1167.8 953.1,1169.6 959.8,1149.2 966.4,1132.5 966.4,1129.7 973.1,1099.7 979.8,1051.9 986.4,1038.5 986.4,1040.2 993.1,1046.8 993.1,1044.1 999.7,1060.8 999.7,1063.3 1006.4,1079.9 1006.4,1079.7 1009.7,1113.0 1014.7,1152.3 1018.9,1154.0 1018.9,1154.1 1023.0,1155.7 1023.0,1156.3 1029.7,1130.4 1036.3,1110.4 1036.4,1110.8 1041.3,1110.8 1041.3,1115.0 1046.3,1115.0 1046.3,1113.0 1049.7,1132.1 1056.3,1148.8 1056.3,1148.1 1063.0,1148.1 1063.0,1149.7 1068.0,1079.7 1071.3,996.5 1074.6,941.4 1078.8,941.4 1078.8,942.0 1083.0,942.0 1083.0,943.3 1086.3,1013.2 1089.6,1113.0 1094.6,1179.6 1099.6,1204.7 1106.3,1201.3 1106.3,1200.1 1111.2,1190.1 1111.3,1193.9 1115.4,1198.9 1115.4,1197.0 1119.6,1202.0 1119.6,1200.9 1126.2,1197.5 1126.2,1200.8 1131.2,1195.8 1131.2,1192.2 1136.2,1187.2 1136.2,1189.6 1146.2,1144.9 1152.9,1141.6 1152.9,1145.0 1159.5,1138.4 1159.5,1134.1 1164.5,1124.1 1164.5,1126.0 1170.3,1126.0 1170.4,1128.4 1176.2,1128.4 1176.2,1126.4 1182.8,1154.8 1189.5,1164.8 1189.5,1160.9 1194.5,1165.9 1194.5,1167.1 1199.5,1172.1 1199.5,1174.3 1204.5,1177.6 1204.5,1175.6 1209.5,1178.9 1209.5,1182.4 1214.5,1175.7 1214.5,1171.2 1219.4,1164.6 1219.5,1169.0 1226.1,1169.0 1226.1,1166.3 1231.1,1169.7 1231.1,1168.0 1236.1,1171.3 1236.1,1172.7 1241.1,1169.3 1241.1,1167.4 1246.1,1164.1 1246.1,1167.5 1251.1,1169.2 1251.1,1166.5 1256.1,1168.2 1256.1,1172.0 1261.1,1163.7 1261.1,1161.8 1266.1,1153.5 1266.1,1152.2 1272.7,1162.2 1272.7,1161.5 1279.4,1171.4 1279.4,1173.0 1286.0,1196.9 1292.7,1200.2 1292.7,1197.9 1298.0,1197.0 1298.0,1201.0 1303.3,1200.1 1303.3,1195.6 1310.0,1197.3 1310.0,1199.6 1314.4,1197.4 1314.4,1197.6 1318.8,1195.3 1318.9,1193.7 1323.3,1191.5 1323.3,1194.5 1327.7,1194.5 1327.7,1192.2 1332.2,1192.2 1332.2,1193.8 1336.6,1193.8 1336.6,1193.3 1341.6,1189.9 1341.6,1188.4 1346.6,1185.1 1346.6,1185.5 1353.2,1172.2 1353.3,1172.9 1359.9,1137.1 1364.1,1142.1 1364.1,1142.7 1368.2,1147.6 1368.2,1151.7 1374.9,1141.7 1374.9,1139.6 1379.9,1083.0 1384.9,1035.3 1389.0,1040.3 1389.0,1042.4 1393.2,1047.4 1393.2,1046.4 1398.2,1073.0 1403.2,1119.6 1408.2,1169.6 1413.2,1183.9 1418.2,1180.5 1418.2,1183.2 1423.2,1179.9 1423.2,1178.7 1428.1,1173.7 1428.2,1174.6 1433.1,1169.6 1433.2,1168.3 1438.1,1163.3 1438.1,1162.0 1443.1,1157.0 1443.1,1159.6 1453.1,1125.1 1458.1,1121.8 1458.1,1121.3 1463.1,1118.0 1463.1,1119.6 1466.4,1094.1 1473.1,1097.4 1473.1,1099.6 1476.4,1130.9 1481.4,1125.9 1481.4,1123.3 1486.4,1118.3 1486.4,1119.0 1489.7,1112.4 1489.7,1115.4 1496.4,1122.1 1496.4,1121.3 1503.1,1117.9 1503.1,1118.6 1509.7,1128.6 1509.7,1128.4 1514.2,1127.3 1514.2,1123.0 1518.6,1121.9 1518.6,1122.7 1523.0,1121.6 1523.0,1122.9 1528.0,1086.8 1533.0,1085.7 1533.0,1089.6 1538.0,1088.5 1538.0,1088.4 1543.0,1087.3 1543.0,1086.3 1549.7,1109.6 1556.3,1138.7 1561.3,1150.4 1561.3,1150.7 1566.3,1162.4 1566.3,1162.9 1573.0,1140.5 1579.6,1120.6 1579.6,1119.6 1583.0,1053.0 1586.3,986.5 1589.6,903.2 1594.6,831.2 1601.3,844.5 1601.3,843.3 1604.6,903.2 1609.6,968.3 1616.2,968.3 1616.3,969.8 1622.9,941.9 1629.6,948.6 1629.6,946.5 1636.2,973.1 1639.6,1003.1 1642.9,1069.7 1649.5,1105.4 1656.2,1115.4 1656.2,1116.3 1662.9,1057.1 1667.0,1060.5 1667.0,1057.8 1671.2,1061.1 1671.2,1063.0 1676.2,1096.3 1682.8,1146.3 1689.5,1190.6 1694.5,1192.2 1694.5,1197.0 1699.5,1198.7 1699.5,1197.6 1704.5,1200.9 1704.5,1200.8 1709.5,1204.1 1709.5,1200.1 1714.5,1200.1 1714.5,1200.1 1719.4,1200.1 1719.5,1200.8 1726.1,1180.8 1726.1,1181.1 1732.8,1187.7 1732.8,1189.5 1739.4,1215.0 1744.4,1213.3 1744.4,1213.8 1749.4,1212.1 1749.4,1210.1 1754.4,1205.1 1754.4,1206.7 1759.4,1201.7 1759.4,1203.7 1763.6,1207.3 1763.6,1204.5 1767.8,1208.1 1767.8,1212.1 1772.2,1214.3 1772.2,1212.6 1776.6,1214.8 1776.6,1215.7 1783.1,1204.8 1783.1,1202.0 1787.5,1195.4 1787.5,1196.5 1791.9,1190.0 1791.9,1191.4 1798.4,1191.4 1798.4,1189.4 1805.0,1196.0 1805.0,1193.9 1811.6,1185.2 1811.6,1190.2 1815.9,1177.0 1815.9,1176.7 1822.5,1167.9 1822.5,1165.0 1829.1,1160.6 1829.1,1161.9 1833.5,1126.9 1840.0,1093.5 1846.6,1080.4 1846.6,1083.1 1851.0,1059.0 1857.5,1056.8 1857.5,1055.4 1863.0,1070.7 1863.0,1070.0 1866.3,1081.0 1870.6,1096.3 1875.0,1122.5 1879.4,1146.1 1885.9,1159.2 1886.0,1161.9 1890.3,1191.0 1896.9,1195.4 1896.9,1194.6 1901.3,1191.3 1901.3,1195.4 1905.6,1192.1 1905.6,1188.6 1912.2,1188.6 1912.2,1190.3 1916.6,1214.7 1923.1,1216.9 1923.1,1215.9 1929.7,1202.8 1929.7,1198.8 1936.3,1194.4 1936.3,1198.1 1942.8,1211.2 1942.8,1210.0 1946.1,1227.5 1946.1,1231.9 1942.8,1251.6 1942.8,1252.7 1936.3,1254.9 1936.3,1255.4 1931.9,1253.2 1931.9,1250.6 1927.5,1248.5 1927.5,1250.9 1923.1,1252.0 1923.1,1248.5 1918.8,1249.6 1918.8,1253.8 1912.2,1262.6 1912.2,1262.9 1905.6,1271.6 1905.6,1269.5 1899.1,1254.2 1899.1,1256.0 1892.5,1240.7 1892.5,1239.2 1888.1,1233.7 1888.1,1235.3 1883.8,1229.9 1879.4,1190.3 1879.4,1189.9 1875.0,1187.7 1875.0,1189.4 1870.6,1187.2 1870.6,1184.8 1866.3,1178.2 1861.9,1122.5 1861.9,1120.8 1855.3,1129.6 1855.3,1131.8 1851.0,1129.7 1846.6,1155.3 1846.6,1152.4 1842.2,1156.8 1837.8,1188.2 1833.5,1203.5 1833.4,1202.7 1826.9,1209.3 1826.9,1208.5 1820.3,1215.0 1815.9,1236.3 1815.9,1233.6 1809.4,1231.4 1809.4,1235.8 1805.0,1239.0 1805.0,1235.2 1800.6,1238.5 1800.6,1242.3 1796.3,1240.1 1796.2,1238.9 1791.9,1236.7 1791.9,1239.0 1787.5,1239.0 1787.5,1234.3 1783.1,1234.3 1776.6,1262.5 1776.6,1261.9 1772.2,1255.3 1772.2,1258.0 1767.8,1251.4 1767.8,1247.0 1761.3,1251.4 1761.2,1255.1 1756.1,1254.1 1756.1,1255.7 1751.1,1254.1 1751.1,1248.8 1746.1,1247.1 1746.1,1251.0 1741.1,1254.3 1741.1,1254.1 1736.1,1257.4 1736.1,1256.4 1731.1,1254.8 1731.1,1256.6 1726.1,1255.0 1726.1,1252.4 1721.1,1254.1 1721.1,1251.9 1716.1,1253.6 1716.1,1255.6 1711.1,1252.2 1711.1,1250.3 1706.1,1246.9 1706.1,1250.0 1701.1,1255.0 1701.1,1254.5 1696.2,1259.5 1696.1,1257.1 1689.5,1260.5 1682.8,1219.5 1676.2,1186.2 1669.5,1152.9 1669.5,1153.3 1664.5,1140.0 1659.5,1192.9 1659.5,1191.2 1652.9,1201.2 1646.2,1152.9 1639.6,1113.0 1636.2,1073.0 1629.6,999.8 1629.6,1000.1 1622.9,993.4 1616.3,1026.4 1616.2,1026.3 1609.6,1033.0 1609.6,1031.6 1602.9,1011.6 1597.9,946.5 1592.9,969.8 1589.6,1043.1 1586.3,1103.0 1583.0,1159.6 1576.3,1196.2 1576.3,1196.4 1571.3,1204.7 1571.3,1202.1 1566.3,1210.4 1566.3,1211.4 1561.3,1208.0 1561.3,1211.7 1556.3,1208.4 1549.7,1179.5 1543.0,1136.3 1543.0,1133.9 1536.4,1130.6 1536.3,1133.2 1531.4,1148.2 1531.4,1150.3 1526.4,1165.2 1526.4,1161.0 1521.4,1162.6 1521.4,1162.2 1516.4,1163.9 1516.4,1165.6 1511.4,1167.3 1511.4,1168.3 1506.4,1169.9 1506.4,1169.7 1501.4,1173.1 1501.4,1172.4 1496.4,1175.7 1496.4,1176.7 1491.4,1178.4 1491.4,1177.1 1486.4,1178.8 1486.4,1180.5 1481.4,1175.5 1481.4,1172.1 1476.4,1167.1 1476.4,1169.2 1471.4,1167.6 1471.4,1169.0 1466.4,1167.3 1466.4,1164.4 1461.4,1167.7 1461.4,1166.7 1456.5,1170.1 1449.8,1209.5 1449.8,1211.8 1443.1,1208.5 1443.1,1205.2 1438.1,1203.6 1438.1,1203.3 1433.2,1201.6 1433.1,1203.7 1428.2,1212.1 1428.1,1211.1 1423.2,1219.4 1423.2,1222.2 1418.2,1227.2 1418.2,1224.9 1413.2,1229.9 1413.2,1228.3 1408.2,1223.3 1408.2,1225.1 1403.2,1220.1 1398.2,1169.6 1393.2,1129.6 1388.2,1103.0 1383.2,1119.6 1378.2,1172.9 1373.2,1192.9 1373.2,1193.9 1368.2,1188.9 1368.2,1185.2 1363.2,1180.2 1356.6,1206.2 1356.6,1208.0 1349.9,1221.4 1349.9,1220.2 1344.9,1221.9 1344.9,1223.9 1339.9,1225.6 1339.9,1225.7 1334.9,1230.7 1334.9,1230.0 1329.9,1235.0 1329.9,1235.3 1325.0,1236.9 1324.9,1237.3 1320.0,1239.0 1320.0,1235.9 1315.0,1239.2 1315.0,1238.4 1310.0,1241.7 1310.0,1240.3 1303.3,1243.6 1303.3,1244.3 1298.8,1247.7 1298.8,1248.6 1294.4,1251.9 1294.4,1253.2 1290.2,1246.6 1290.2,1245.9 1286.0,1239.2 1286.0,1238.3 1281.0,1228.3 1281.0,1227.5 1276.1,1217.6 1276.0,1222.0 1271.1,1208.7 1271.0,1208.2 1266.1,1194.9 1266.1,1193.9 1261.1,1197.3 1261.1,1195.9 1256.1,1199.2 1256.1,1198.6 1251.1,1203.6 1251.1,1204.1 1246.1,1209.1 1246.1,1209.7 1241.1,1213.0 1241.1,1213.9 1236.1,1217.2 1236.1,1214.9 1229.4,1198.3 1229.4,1199.1 1224.4,1202.5 1224.4,1204.6 1219.5,1208.0 1219.4,1208.4 1214.5,1211.7 1214.5,1211.6 1209.5,1215.0 1209.5,1209.9 1205.0,1209.9 1205.0,1214.2 1200.6,1214.2 1200.6,1211.1 1196.2,1211.1 1196.1,1212.5 1191.2,1207.6 1191.1,1205.2 1186.2,1200.2 1186.2,1200.5 1181.2,1188.8 1181.2,1194.1 1176.2,1182.4 1176.2,1179.3 1169.5,1169.3 1162.9,1206.3 1162.9,1204.2 1156.2,1224.2 1149.5,1199.6 1142.9,1226.2 1142.9,1227.4 1137.9,1230.7 1137.9,1227.0 1132.9,1230.4 1132.9,1233.4 1127.9,1236.7 1127.9,1235.0 1122.9,1238.3 1122.9,1237.5 1116.3,1234.2 1116.2,1236.2 1111.3,1239.5 1111.2,1239.5 1106.3,1242.8 1106.3,1245.5 1101.3,1245.5 1101.3,1245.3 1096.3,1245.3 1089.6,1212.9 1084.6,1163.0 1081.3,1113.0 1076.3,1086.4 1071.3,1139.7 1068.0,1179.6 1068.0,1180.9 1061.3,1197.5 1061.3,1198.2 1057.2,1193.2 1057.2,1192.0 1053.0,1187.0 1053.0,1186.7 1048.8,1175.0 1048.8,1171.9 1044.7,1160.2 1039.7,1146.3 1036.4,1173.0 1036.3,1171.4 1031.4,1179.7 1031.4,1183.3 1026.4,1191.6 1026.4,1188.8 1022.2,1192.2 1022.2,1193.2 1018.0,1196.6 1018.0,1195.5 1013.9,1187.2 1013.9,1186.9 1009.7,1178.5 1009.7,1181.6 1003.1,1161.6 996.4,1106.4 996.4,1104.5 989.7,1084.5 989.7,1085.4 984.8,1092.0 979.8,1126.4 979.7,1127.8 975.6,1137.8 975.6,1138.3 971.4,1148.3 963.1,1179.6 963.1,1181.3 956.5,1201.3 953.1,1222.9 953.1,1220.9 946.5,1217.6 946.5,1222.1 941.5,1223.8 941.5,1223.3 936.5,1225.0 936.5,1223.7 931.5,1227.1 931.5,1224.3 926.5,1227.7 926.5,1228.3 922.3,1220.0 922.3,1223.3 918.2,1214.9 918.2,1214.6 914.0,1206.2 914.0,1201.8 909.8,1193.4 903.2,1163.0 896.5,1129.7 893.2,1099.7 888.2,1083.1 883.2,1099.7 883.2,1097.6 876.6,1107.5 876.5,1108.2 872.4,1119.8 872.4,1119.9 868.2,1131.5 861.6,1179.6 856.6,1229.6 856.6,1230.5 852.4,1235.5 852.4,1237.2 848.3,1242.2 848.2,1240.3 844.1,1243.6 844.1,1243.7 839.9,1247.1 839.9,1248.7 834.9,1248.7 834.9,1243.3 829.9,1243.3 829.9,1246.5 825.0,1244.8 824.9,1242.7 820.0,1241.0 820.0,1242.5 815.0,1239.2 815.0,1239.5 810.0,1236.1 810.0,1233.9 804.7,1230.5 804.7,1233.2 799.4,1229.9 799.3,1232.4 792.7,1229.1 792.7,1227.5 787.7,1229.2 787.7,1225.4 782.7,1227.0 782.7,1231.0 777.7,1231.0 777.7,1232.5 772.7,1232.5 772.7,1226.6 767.7,1226.6 767.7,1227.0 762.7,1227.0 762.7,1227.5 757.7,1225.9 757.7,1227.0 752.7,1225.4 752.7,1226.0 747.8,1226.0 747.7,1225.1 742.8,1225.1 742.7,1223.9 737.8,1217.2 737.8,1219.2 732.8,1212.6 732.8,1214.1 727.8,1212.4 727.8,1209.4 722.8,1207.7 722.8,1208.2 717.8,1209.9 717.8,1208.6 712.8,1210.2 712.8,1211.1 707.8,1211.1 707.8,1212.0 702.8,1212.0 702.8,1211.6 697.8,1213.3 697.8,1212.2 692.8,1213.9 692.8,1218.2 687.8,1214.9 687.8,1214.5 682.8,1211.1 682.8,1209.3 677.8,1206.0 677.8,1206.8 672.8,1203.5 672.8,1203.9 666.2,1217.2 666.2,1214.2 661.2,1209.2 661.2,1212.8 656.2,1207.8 656.2,1206.5 652.0,1206.5 652.0,1208.1 647.9,1208.1 647.9,1205.2 642.9,1195.2 642.9,1196.6 636.2,1209.9 636.2,1207.4 629.6,1227.4 629.6,1231.8 622.9,1238.5 622.9,1235.0 617.9,1236.6 617.9,1237.0 612.9,1238.6 612.9,1242.1 607.9,1243.8 607.9,1240.8 602.9,1242.5 602.9,1242.9 597.9,1241.3 597.9,1239.6 592.9,1238.0 592.9,1237.9 588.0,1239.6 587.9,1242.2 583.0,1243.9 583.0,1244.1 578.0,1245.7 578.0,1242.3 573.0,1244.0 573.0,1245.0 568.5,1243.9 568.5,1243.3 564.1,1242.2 564.1,1243.4 559.7,1242.3 559.6,1242.0 554.7,1240.3 554.7,1238.5 549.7,1236.9 549.7,1238.0 545.2,1233.6 545.2,1235.3 540.8,1230.9 540.8,1231.5 536.4,1227.0 536.3,1229.0 531.4,1234.0 531.4,1231.5 526.4,1236.5 526.4,1234.7 519.7,1244.7 519.7,1248.0 514.7,1238.0 514.7,1237.4 509.7,1227.4 509.7,1223.5 504.7,1228.4 504.7,1232.8 499.7,1237.7 499.7,1233.9 494.7,1233.9 494.7,1238.7 489.7,1238.7 489.7,1236.2 484.8,1234.6 484.7,1234.1 479.8,1232.4 479.7,1234.0 475.3,1235.1 475.3,1231.3 470.9,1232.4 470.9,1234.8 466.4,1235.9 466.4,1236.9 459.8,1243.6 459.8,1244.8 453.1,1261.5 453.1,1260.9 448.1,1264.2 448.1,1264.0 443.1,1267.3 443.1,1268.7 438.1,1263.7 438.1,1260.7 433.2,1255.7 433.1,1258.8 428.2,1257.2 428.1,1252.0 423.2,1250.4 423.2,1251.5 418.2,1246.5 418.2,1249.8 413.2,1244.8 413.2,1244.3 409.0,1241.0 409.0,1238.9 404.9,1235.5 403.9,1232.8" fill="#ff0000" stroke="#ff0000" stroke-width="1.5" stroke-linejoin="round"/>
<rect x="294.3" y="48.0" width="1747.5" height="1286.8" fill="none" stroke="#262626" stroke-width="5"/>
<line x1="268.30" y1="174.50" x2="294.30" y2="174.50" stroke="#262626" stroke-width="4.5"/>
<line x1="268.30" y1="385.50" x2="294.30" y2="385.50" stroke="#262626" stroke-width="4.5"/>
<line x1="268.30" y1="596.50" x2="294.30" y2="596.50" stroke="#262626" stroke-width="4.5"/>
<line x1="268.30" y1="807.50" x2="294.30" y2="807.50" stroke="#262626" stroke-width="4.5"/>
<line x1="268.30" y1="1018.50" x2="294.30" y2="1018.50" stroke="#262626" stroke-width="4.5"/>
<line x1="268.30" y1="1229.50" x2="294.30" y2="1229.50" stroke="#262626" stroke-width="4.5"/>
<line x1="279.30" y1="69.00" x2="294.30" y2="69.00" stroke="#262626" stroke-width="4.5"/>
<line x1="279.30" y1="280.00" x2="294.30" y2="280.00" stroke="#262626" stroke-width="4.5"/>
<line x1="279.30" y1="491.00" x2="294.30" y2="491.00" stroke="#262626" stroke-width="4.5"/>
<line x1="279.30" y1="702.00" x2="294.30" y2="702.00" stroke="#262626" stroke-width="4.5"/>
<line x1="279.30" y1="913.00" x2="294.30" y2="913.00" stroke="#262626" stroke-width="4.5"/>
<line x1="279.30" y1="1124.00" x2="294.30" y2="1124.00" stroke="#262626" stroke-width="4.5"/>
<line x1="279.30" y1="1335.00" x2="294.30" y2="1335.00" stroke="#262626" stroke-width="4.5"/>
<line x1="304.70" y1="1334.80" x2="304.70" y2="1360.80" stroke="#262626" stroke-width="4.5"/>
<line x1="515.26" y1="1334.80" x2="515.26" y2="1360.80" stroke="#262626" stroke-width="4.5"/>
<line x1="725.82" y1="1334.80" x2="725.82" y2="1360.80" stroke="#262626" stroke-width="4.5"/>
<line x1="936.38" y1="1334.80" x2="936.38" y2="1360.80" stroke="#262626" stroke-width="4.5"/>
<line x1="1146.94" y1="1334.80" x2="1146.94" y2="1360.80" stroke="#262626" stroke-width="4.5"/>
<line x1="1357.50" y1="1334.80" x2="1357.50" y2="1360.80" stroke="#262626" stroke-width="4.5"/>
<line x1="1568.06" y1="1334.80" x2="1568.06" y2="1360.80" stroke="#262626" stroke-width="4.5"/>
<line x1="1778.62" y1="1334.80" x2="1778.62" y2="1360.80" stroke="#262626" stroke-width="4.5"/>
<line x1="1989.18" y1="1334.80" x2="1989.18" y2="1360.80" stroke="#262626" stroke-width="4.5"/>
<line x1="409.98" y1="1334.80" x2="409.98" y2="1347.80" stroke="#262626" stroke-width="4.5"/>
<line x1="620.54" y1="1334.80" x2="620.54" y2="1347.80" stroke="#262626" stroke-width="4.5"/>
<line x1="831.10" y1="1334.80" x2="831.10" y2="1347.80" stroke="#262626" stroke-width="4.5"/>
<line x1="1041.66" y1="1334.80" x2="1041.66" y2="1347.80" stroke="#262626" stroke-width="4.5"/>
<line x1="1252.22" y1="1334.80" x2="1252.22" y2="1347.80" stroke="#262626" stroke-width="4.5"/>
<line x1="1462.78" y1="1334.80" x2="1462.78" y2="1347.80" stroke="#262626" stroke-width="4.5"/>
<line x1="1673.34" y1="1334.80" x2="1673.34" y2="1347.80" stroke="#262626" stroke-width="4.5"/>
<line x1="1883.90" y1="1334.80" x2="1883.90" y2="1347.80" stroke="#262626" stroke-width="4.5"/>
<line x1="1857.80" y1="56.00" x2="1857.80" y2="1296.00" stroke="#444" stroke-width="2.6" stroke-dasharray="9,6"/>
<rect x="401.0" y="1755.3" width="1741.0" height="1281.9" fill="none" stroke="#262626" stroke-width="5"/>
<line x1="376.50" y1="3005.76" x2="401.00" y2="3005.76" stroke="#262626" stroke-width="4.5"/>
<line x1="376.50" y1="2877.52" x2="401.00" y2="2877.52" stroke="#262626" stroke-width="4.5"/>
<line x1="376.50" y1="2749.28" x2="401.00" y2="2749.28" stroke="#262626" stroke-width="4.5"/>
<line x1="376.50" y1="2621.04" x2="401.00" y2="2621.04" stroke="#262626" stroke-width="4.5"/>
<line x1="376.50" y1="2492.80" x2="401.00" y2="2492.80" stroke="#262626" stroke-width="4.5"/>
<line x1="376.50" y1="2364.56" x2="401.00" y2="2364.56" stroke="#262626" stroke-width="4.5"/>
<line x1="376.50" y1="2236.32" x2="401.00" y2="2236.32" stroke="#262626" stroke-width="4.5"/>
<line x1="376.50" y1="2108.08" x2="401.00" y2="2108.08" stroke="#262626" stroke-width="4.5"/>
<line x1="376.50" y1="1979.84" x2="401.00" y2="1979.84" stroke="#262626" stroke-width="4.5"/>
<line x1="376.50" y1="1851.60" x2="401.00" y2="1851.60" stroke="#262626" stroke-width="4.5"/>
<line x1="387.00" y1="2941.64" x2="401.00" y2="2941.64" stroke="#262626" stroke-width="4.5"/>
<line x1="387.00" y1="2813.40" x2="401.00" y2="2813.40" stroke="#262626" stroke-width="4.5"/>
<line x1="387.00" y1="2685.16" x2="401.00" y2="2685.16" stroke="#262626" stroke-width="4.5"/>
<line x1="387.00" y1="2556.92" x2="401.00" y2="2556.92" stroke="#262626" stroke-width="4.5"/>
<line x1="387.00" y1="2428.68" x2="401.00" y2="2428.68" stroke="#262626" stroke-width="4.5"/>
<line x1="387.00" y1="2300.44" x2="401.00" y2="2300.44" stroke="#262626" stroke-width="4.5"/>
<line x1="387.00" y1="2172.20" x2="401.00" y2="2172.20" stroke="#262626" stroke-width="4.5"/>
<line x1="387.00" y1="2043.96" x2="401.00" y2="2043.96" stroke="#262626" stroke-width="4.5"/>
<line x1="387.00" y1="1915.72" x2="401.00" y2="1915.72" stroke="#262626" stroke-width="4.5"/>
<line x1="387.00" y1="1787.48" x2="401.00" y2="1787.48" stroke="#262626" stroke-width="4.5"/>
<line x1="558.70" y1="3037.20" x2="558.70" y2="3063.20" stroke="#262626" stroke-width="4.5"/>
<line x1="734.58" y1="3037.20" x2="734.58" y2="3063.20" stroke="#262626" stroke-width="4.5"/>
<line x1="910.45" y1="3037.20" x2="910.45" y2="3063.20" stroke="#262626" stroke-width="4.5"/>
<line x1="1086.33" y1="3037.20" x2="1086.33" y2="3063.20" stroke="#262626" stroke-width="4.5"/>
<line x1="1262.20" y1="3037.20" x2="1262.20" y2="3063.20" stroke="#262626" stroke-width="4.5"/>
<line x1="1438.08" y1="3037.20" x2="1438.08" y2="3063.20" stroke="#262626" stroke-width="4.5"/>
<line x1="1613.95" y1="3037.20" x2="1613.95" y2="3063.20" stroke="#262626" stroke-width="4.5"/>
<line x1="1789.83" y1="3037.20" x2="1789.83" y2="3063.20" stroke="#262626" stroke-width="4.5"/>
<line x1="1965.70" y1="3037.20" x2="1965.70" y2="3063.20" stroke="#262626" stroke-width="4.5"/>
<line x1="2141.57" y1="3037.20" x2="2141.57" y2="3063.20" stroke="#262626" stroke-width="4.5"/>
<line x1="470.76" y1="3037.20" x2="470.76" y2="3051.20" stroke="#262626" stroke-width="4.5"/>
<line x1="646.64" y1="3037.20" x2="646.64" y2="3051.20" stroke="#262626" stroke-width="4.5"/>
<line x1="822.51" y1="3037.20" x2="822.51" y2="3051.20" stroke="#262626" stroke-width="4.5"/>
<line x1="998.39" y1="3037.20" x2="998.39" y2="3051.20" stroke="#262626" stroke-width="4.5"/>
<line x1="1174.26" y1="3037.20" x2="1174.26" y2="3051.20" stroke="#262626" stroke-width="4.5"/>
<line x1="1350.14" y1="3037.20" x2="1350.14" y2="3051.20" stroke="#262626" stroke-width="4.5"/>
<line x1="1526.01" y1="3037.20" x2="1526.01" y2="3051.20" stroke="#262626" stroke-width="4.5"/>
<line x1="1701.89" y1="3037.20" x2="1701.89" y2="3051.20" stroke="#262626" stroke-width="4.5"/>
<line x1="1877.76" y1="3037.20" x2="1877.76" y2="3051.20" stroke="#262626" stroke-width="4.5"/>
<line x1="2053.64" y1="3037.20" x2="2053.64" y2="3051.20" stroke="#262626" stroke-width="4.5"/>
<polygon points="558.7,1919.2 593.7,1954.2 558.7,1989.2 523.7,1954.2" fill="#ff00ff"/>
<polygon points="910.5,1996.1 945.5,2031.1 910.5,2066.1 875.5,2031.1" fill="#ff00ff"/>
<polygon points="1262.2,2073.1 1297.2,2108.1 1262.2,2143.1 1227.2,2108.1" fill="#ff00ff"/>
<polygon points="1614.0,2265.4 1649.0,2300.4 1614.0,2335.4 1579.0,2300.4" fill="#ff00ff"/>
<polygon points="1965.7,2778.4 2000.7,2813.4 1965.7,2848.4 1930.7,2813.4" fill="#ff00ff"/>
<text transform="translate(247.00,1380.80) scale(0.7089,0.7507) translate(-5.00,70.00)" font-size="100" stroke="#000" stroke-width="1.371">200</text>
<text transform="translate(455.00,1380.80) scale(0.7019,0.7507) translate(-2.00,70.00)" font-size="100" stroke="#000" stroke-width="1.378">400</text>
<text transform="translate(670.75,1380.80) scale(0.6867,0.7507) translate(-5.00,70.00)" font-size="100" stroke="#000" stroke-width="1.393">600</text>
<text transform="translate(879.50,1380.80) scale(0.6918,0.7507) translate(-4.00,70.00)" font-size="100" stroke="#000" stroke-width="1.388">800</text>
<text transform="translate(1075.00,1380.80) scale(0.7065,0.7507) translate(-12.00,70.00)" font-size="100" stroke="#000" stroke-width="1.373"><tspan font-family="IPAGothic, sans-serif" dy="6">1</tspan><tspan dy="-6">0</tspan>00</text>
<text transform="translate(1287.25,1380.80) scale(0.6990,0.7507) translate(-12.00,70.00)" font-size="100" stroke="#000" stroke-width="1.380"><tspan font-family="IPAGothic, sans-serif" dy="6">1</tspan><tspan dy="-6">2</tspan>00</text>
<text transform="translate(1496.00,1380.80) scale(0.7015,0.7507) translate(-12.00,70.00)" font-size="100" stroke="#000" stroke-width="1.378"><tspan font-family="IPAGothic, sans-serif" dy="6">1</tspan><tspan dy="-6">4</tspan>00</text>
<text transform="translate(1709.00,1380.80) scale(0.7015,0.7507) translate(-12.00,70.00)" font-size="100" stroke="#000" stroke-width="1.378"><tspan font-family="IPAGothic, sans-serif" dy="6">1</tspan><tspan dy="-6">6</tspan>00</text>
<text transform="translate(1918.75,1380.80) scale(0.6990,0.7507) translate(-12.00,70.00)" font-size="100" stroke="#000" stroke-width="1.380"><tspan font-family="IPAGothic, sans-serif" dy="6">1</tspan><tspan dy="-6">8</tspan>00</text>
<text transform="translate(811.00,1459.50) scale(0.8073,0.8311) translate(-0.00,73.00)" font-size="100" stroke="#000" stroke-width="1.221">Wavenumber</text>
<text transform="translate(1323.50,1464.50) scale(0.6923,0.7553) translate(-6.00,73.00)" font-size="100" stroke="#000" stroke-width="1.383">(</text>
<text transform="translate(1347.50,1474.90) scale(0.7886,0.8400) translate(-4.00,54.00)" font-size="100" stroke="#000" stroke-width="1.229">cm</text>
<text transform="translate(1453.00,1464.70) scale(0.6200,0.5750) translate(-4.00,31.00)" font-size="100" stroke="#000" stroke-width="1.675">-</text>
<text transform="translate(1477.50,1440.30) scale(0.6842,0.5662) translate(-12.00,70.00)" font-size="100" stroke="#000" stroke-width="1.607"><tspan font-family="IPAGothic, sans-serif" dy="6">1</tspan></text>
<text transform="translate(1505.00,1465.00) scale(0.7500,0.7457) translate(-1.00,73.00)" font-size="100" stroke="#000" stroke-width="1.337">)</text>
<text transform="translate(169.80,1055.90) rotate(-90) scale(0.7930,0.8085) translate(-8.00,73.00)" font-size="100" stroke="#000" stroke-width="1.249">Raman Intensity (a. u.)</text>
<text transform="translate(378.70,229.40) scale(0.6561,0.7352) translate(-2.00,70.00)" font-size="100" stroke="#000" stroke-width="1.440">4%</text>
<text transform="translate(381.80,494.90) scale(0.6620,0.7127) translate(-4.00,70.00)" font-size="100" stroke="#000" stroke-width="1.456">3%</text>
<text transform="translate(381.80,735.00) scale(0.6860,0.7141) translate(-5.00,70.00)" font-size="100" stroke="#000" stroke-width="1.429">2%</text>
<text transform="translate(378.50,916.70) scale(0.6732,0.7070) translate(-12.00,70.00)" font-size="100" stroke="#000" stroke-width="1.449"><tspan font-family="IPAGothic, sans-serif" dy="6">1</tspan><tspan dy="-6">%</tspan></text>
<text transform="translate(378.50,1120.10) scale(0.6818,0.7535) translate(-4.00,70.00)" font-size="100" stroke="#000" stroke-width="1.395">0%</text>
<text transform="translate(593.55,392.75) scale(0.6600,0.6029) translate(-2.00,69.00)" font-size="100" stroke="#000" stroke-width="5.549">*</text>
<text transform="translate(611.65,723.35) scale(0.6371,0.6029) translate(-2.00,69.00)" font-size="100" stroke="#000" stroke-width="5.647">*</text>
<text transform="translate(605.55,846.15) scale(0.6114,0.5743) translate(-2.00,69.00)" font-size="100" stroke="#000" stroke-width="5.907">*</text>
<text transform="translate(1928.50,125.00) scale(0.9519,1.0709) translate(-4.00,54.00)" font-size="100" stroke="#000" stroke-width="0.990">a</text>
<text transform="translate(1985.50,121.50) scale(0.8077,0.8138) translate(-1.00,73.00)" font-size="100" stroke="#000" stroke-width="1.233">)</text>
<text transform="translate(213.10,2975.56) scale(0.7100,0.7563) translate(-12.00,70.00)" font-size="100" stroke="#000" stroke-width="1.365"><tspan font-family="IPAGothic, sans-serif" dy="6">1</tspan><tspan dy="-6">6</tspan>58</text>
<text transform="translate(213.10,2847.32) scale(0.7100,0.7563) translate(-12.00,70.00)" font-size="100" stroke="#000" stroke-width="1.365"><tspan font-family="IPAGothic, sans-serif" dy="6">1</tspan><tspan dy="-6">6</tspan>60</text>
<text transform="translate(213.10,2719.08) scale(0.7135,0.7563) translate(-12.00,70.00)" font-size="100" stroke="#000" stroke-width="1.361"><tspan font-family="IPAGothic, sans-serif" dy="6">1</tspan><tspan dy="-6">6</tspan>62</text>
<text transform="translate(213.10,2590.84) scale(0.7064,0.7563) translate(-12.00,70.00)" font-size="100" stroke="#000" stroke-width="1.368"><tspan font-family="IPAGothic, sans-serif" dy="6">1</tspan><tspan dy="-6">6</tspan>64</text>
<text transform="translate(213.10,2462.60) scale(0.7100,0.7563) translate(-12.00,70.00)" font-size="100" stroke="#000" stroke-width="1.365"><tspan font-family="IPAGothic, sans-serif" dy="6">1</tspan><tspan dy="-6">6</tspan>66</text>
<text transform="translate(213.10,2334.36) scale(0.7100,0.7563) translate(-12.00,70.00)" font-size="100" stroke="#000" stroke-width="1.365"><tspan font-family="IPAGothic, sans-serif" dy="6">1</tspan><tspan dy="-6">6</tspan>68</text>
<text transform="translate(213.10,2206.12) scale(0.7100,0.7563) translate(-12.00,70.00)" font-size="100" stroke="#000" stroke-width="1.365"><tspan font-family="IPAGothic, sans-serif" dy="6">1</tspan><tspan dy="-6">6</tspan>70</text>
<text transform="translate(213.10,2077.88) scale(0.7135,0.7563) translate(-12.00,70.00)" font-size="100" stroke="#000" stroke-width="1.361"><tspan font-family="IPAGothic, sans-serif" dy="6">1</tspan><tspan dy="-6">6</tspan>72</text>
<text transform="translate(213.10,1949.64) scale(0.7064,0.7563) translate(-12.00,70.00)" font-size="100" stroke="#000" stroke-width="1.368"><tspan font-family="IPAGothic, sans-serif" dy="6">1</tspan><tspan dy="-6">6</tspan>74</text>
<text transform="translate(213.10,1821.40) scale(0.7100,0.7563) translate(-12.00,70.00)" font-size="100" stroke="#000" stroke-width="1.365"><tspan font-family="IPAGothic, sans-serif" dy="6">1</tspan><tspan dy="-6">6</tspan>76</text>
<text transform="translate(558.20,3148.00) scale(0.8249,0.8870) translate(-28.00,0)" font-size="100" stroke="#000" stroke-width="1.169">0</text>
<text transform="translate(680.58,3086.50) scale(0.8168,0.8732) translate(-4.00,70.00)" font-size="100" stroke="#000" stroke-width="1.184">0.5</text>
<text transform="translate(909.95,3148.00) scale(0.8249,0.8870) translate(-21.50,0)" font-size="100" stroke="#000" stroke-width="1.169"><tspan font-family="IPAGothic, sans-serif" dy="6">1</tspan></text>
<text transform="translate(1032.33,3086.50) scale(0.9145,0.8732) translate(-12.00,70.00)" font-size="100" stroke="#000" stroke-width="1.119"><tspan font-family="IPAGothic, sans-serif" dy="6">1</tspan><tspan dy="-6">.</tspan>5</text>
<text transform="translate(1261.70,3148.00) scale(0.8249,0.8870) translate(-28.00,0)" font-size="100" stroke="#000" stroke-width="1.169">2</text>
<text transform="translate(1384.08,3086.50) scale(0.8231,0.8732) translate(-5.00,70.00)" font-size="100" stroke="#000" stroke-width="1.180">2.5</text>
<text transform="translate(1613.45,3148.00) scale(0.8249,0.8870) translate(-27.50,0)" font-size="100" stroke="#000" stroke-width="1.169">3</text>
<text transform="translate(1735.83,3086.50) scale(0.8168,0.8732) translate(-4.00,70.00)" font-size="100" stroke="#000" stroke-width="1.184">3.5</text>
<text transform="translate(1965.20,3148.00) scale(0.8249,0.8870) translate(-27.50,0)" font-size="100" stroke="#000" stroke-width="1.169">4</text>
<text transform="translate(2087.57,3086.50) scale(0.8045,0.8732) translate(-2.00,70.00)" font-size="100" stroke="#000" stroke-width="1.193">4.5</text>
<text transform="translate(830.00,3173.40) scale(0.8722,0.9117) translate(-5.00,73.00)" font-size="100" stroke="#000" stroke-width="1.121">CS content in PVP (%)</text>
<text transform="translate(98.90,2854.80) rotate(-90) scale(0.7337,0.7585) translate(-8.00,73.00)" font-size="100" stroke="#000" stroke-width="1.340">Peak position of <tspan font-family="IPAGothic, sans-serif" dy="6">1</tspan><tspan dy="-6">6</tspan>70</text>
<text transform="translate(102.40,2119.00) rotate(-90) scale(0.7422,0.7309) translate(-6.00,73.00)" font-size="100" stroke="#000" stroke-width="1.358">(cm</text>
<text transform="translate(85.10,2003.70) rotate(-90) scale(0.6300,0.5324) translate(-4.00,70.00)" font-size="100" stroke="#000" stroke-width="1.727">-<tspan font-family="IPAGothic, sans-serif" dy="6">1</tspan></text>
<text transform="translate(102.40,1955.50) rotate(-90) scale(0.6923,0.7309) translate(-1.00,73.00)" font-size="100" stroke="#000" stroke-width="1.406">)</text>
<text transform="translate(2010.20,1866.30) scale(1.0283,1.0405) translate(-6.00,73.00)" font-size="100" stroke="#000" stroke-width="0.967">b</text>
<text transform="translate(2065.50,1883.30) scale(0.8346,0.8043) translate(-1.00,73.00)" font-size="100" stroke="#000" stroke-width="1.221">)</text>
</svg></body></html>
